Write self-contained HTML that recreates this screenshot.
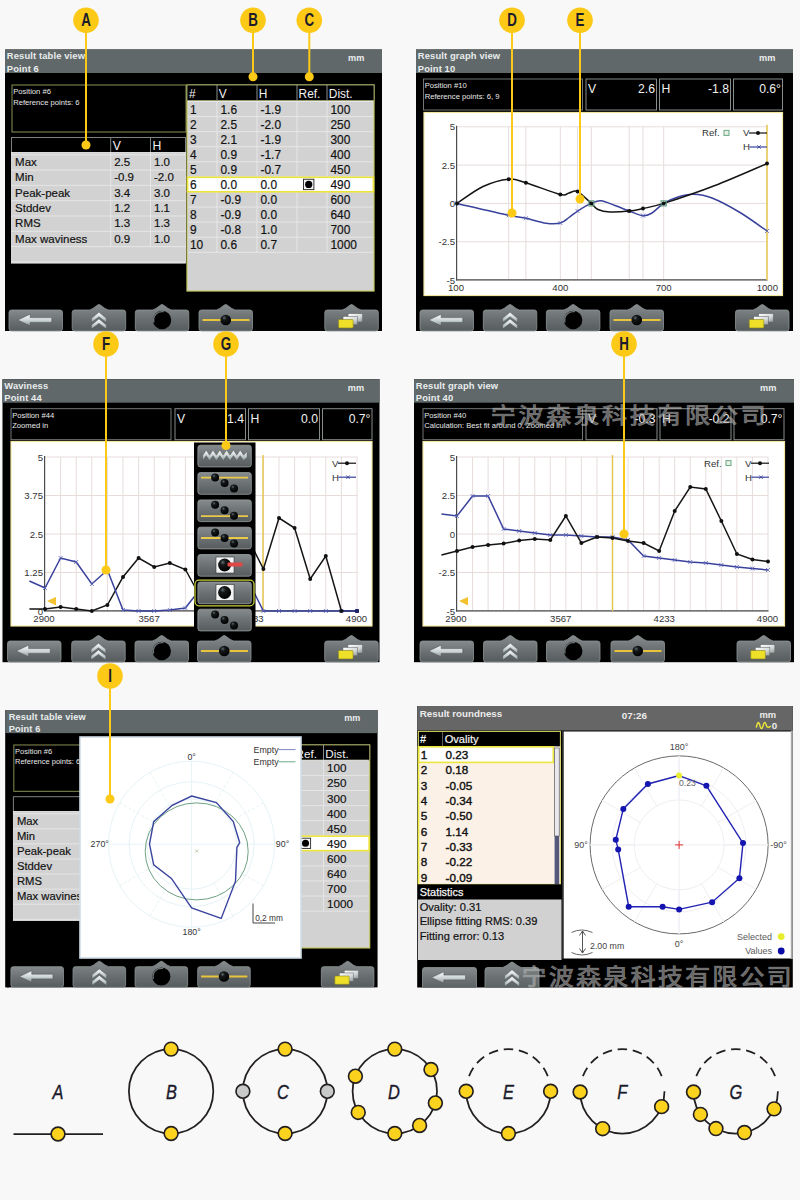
<!DOCTYPE html>
<html lang="en"><head><meta charset="utf-8"><title>Result views</title>
<style>html,body{margin:0;padding:0;background:#f8f8f8}svg{display:block}</style>
</head><body>
<svg width="800" height="1200" viewBox="0 0 800 1200" font-family='"Liberation Sans", Arial, sans-serif'>
<defs>
<linearGradient id="gbtn" x1="0" y1="0" x2="0" y2="1"><stop offset="0" stop-color="#868c8d"/><stop offset="0.5" stop-color="#6c7273"/><stop offset="1" stop-color="#565c5d"/></linearGradient>
<linearGradient id="gsilver" x1="0" y1="0" x2="0" y2="1"><stop offset="0" stop-color="#ffffff"/><stop offset="0.55" stop-color="#c9d2d2"/><stop offset="1" stop-color="#8d9797"/></linearGradient>
<linearGradient id="gsilver2" x1="0" y1="0" x2="1" y2="1"><stop offset="0" stop-color="#ffffff"/><stop offset="0.6" stop-color="#d4d8d8"/><stop offset="1" stop-color="#8f9595"/></linearGradient>
<radialGradient id="gball" cx="0.36" cy="0.3" r="0.7"><stop offset="0" stop-color="#5d6a6d"/><stop offset="0.3" stop-color="#151819"/><stop offset="1" stop-color="#000"/></radialGradient>
<radialGradient id="gbigball" cx="0.5" cy="0.5" r="0.5" fx="0.3" fy="0.25"><stop offset="0" stop-color="#000"/><stop offset="0.86" stop-color="#000"/><stop offset="0.93" stop-color="#3a4042"/><stop offset="1" stop-color="#5b6263"/></radialGradient>
</defs>
<rect x="0" y="0" width="800" height="1200" fill="#f8f8f8"/>
<g transform="translate(5 49.5)">
<rect x="0" y="0" width="377" height="281.5" fill="#000"/>
<rect x="0" y="0" width="377" height="23.5" fill="#60686a"/>
<text x="1.8" y="9.9" font-size="9.4" fill="#e9eded" font-weight="bold" letter-spacing="0.13">Result table view</text>
<text x="1.8" y="22" font-size="9.4" fill="#e9eded" font-weight="bold" letter-spacing="0.13">Point 6</text>
<text x="343" y="11.6" font-size="9.2" fill="#e9eded" font-weight="bold">mm</text>
<rect x="7" y="35.5" width="174" height="47" fill="#000" stroke="#9aa05c" stroke-width="0.9"/>
<text x="8.2" y="44.4" font-size="7.65" fill="#e8e8e8">Position #6</text>
<text x="8.2" y="55.1" font-size="7.65" fill="#e8e8e8">Reference points: 6</text>
<rect x="6.5" y="103" width="174" height="110.6" fill="#d2d2d2"/>
<rect x="6.5" y="88" width="174" height="15" fill="#000" stroke="#8a8f8f" stroke-width="0.9"/>
<line x1="105.7" y1="88" x2="105.7" y2="103" stroke="#8a8f8f" stroke-width="0.9"/>
<line x1="145.5" y1="88" x2="145.5" y2="103" stroke="#8a8f8f" stroke-width="0.9"/>
<text x="107.7" y="100.6" font-size="12.2" fill="#f2f2f2">V</text>
<text x="147.5" y="100.6" font-size="12.2" fill="#f2f2f2">H</text>
<line x1="6.5" y1="105.3" x2="180.5" y2="105.3" stroke="#e6e6e6" stroke-width="1"/>
<line x1="6.5" y1="120.6" x2="180.5" y2="120.6" stroke="#e6e6e6" stroke-width="1"/>
<line x1="6.5" y1="135.9" x2="180.5" y2="135.9" stroke="#e6e6e6" stroke-width="1"/>
<line x1="6.5" y1="151.2" x2="180.5" y2="151.2" stroke="#e6e6e6" stroke-width="1"/>
<line x1="6.5" y1="166.5" x2="180.5" y2="166.5" stroke="#e6e6e6" stroke-width="1"/>
<line x1="6.5" y1="181.8" x2="180.5" y2="181.8" stroke="#e6e6e6" stroke-width="1"/>
<line x1="6.5" y1="197.1" x2="180.5" y2="197.1" stroke="#e6e6e6" stroke-width="1"/>
<line x1="6.5" y1="212.4" x2="180.5" y2="212.4" stroke="#e6e6e6" stroke-width="1"/>
<line x1="105.7" y1="103" x2="105.7" y2="197.1" stroke="#e6e6e6" stroke-width="1"/>
<line x1="145.5" y1="103" x2="145.5" y2="197.1" stroke="#e6e6e6" stroke-width="1"/>
<text x="10.1" y="116.6" font-size="11.5" fill="#111" stroke="#111" stroke-width="0.18">Max</text>
<text x="109.2" y="116.6" font-size="11.5" fill="#111" stroke="#111" stroke-width="0.18">2.5</text>
<text x="149" y="116.6" font-size="11.5" fill="#111" stroke="#111" stroke-width="0.18">1.0</text>
<text x="10.1" y="131.9" font-size="11.5" fill="#111" stroke="#111" stroke-width="0.18">Min</text>
<text x="109.2" y="131.9" font-size="11.5" fill="#111" stroke="#111" stroke-width="0.18">-0.9</text>
<text x="149" y="131.9" font-size="11.5" fill="#111" stroke="#111" stroke-width="0.18">-2.0</text>
<text x="10.1" y="147.2" font-size="11.5" fill="#111" stroke="#111" stroke-width="0.18">Peak-peak</text>
<text x="109.2" y="147.2" font-size="11.5" fill="#111" stroke="#111" stroke-width="0.18">3.4</text>
<text x="149" y="147.2" font-size="11.5" fill="#111" stroke="#111" stroke-width="0.18">3.0</text>
<text x="10.1" y="162.5" font-size="11.5" fill="#111" stroke="#111" stroke-width="0.18">Stddev</text>
<text x="109.2" y="162.5" font-size="11.5" fill="#111" stroke="#111" stroke-width="0.18">1.2</text>
<text x="149" y="162.5" font-size="11.5" fill="#111" stroke="#111" stroke-width="0.18">1.1</text>
<text x="10.1" y="177.8" font-size="11.5" fill="#111" stroke="#111" stroke-width="0.18">RMS</text>
<text x="109.2" y="177.8" font-size="11.5" fill="#111" stroke="#111" stroke-width="0.18">1.3</text>
<text x="149" y="177.8" font-size="11.5" fill="#111" stroke="#111" stroke-width="0.18">1.3</text>
<text x="10.1" y="193.1" font-size="11.5" fill="#111" stroke="#111" stroke-width="0.18">Max waviness</text>
<text x="109.2" y="193.1" font-size="11.5" fill="#111" stroke="#111" stroke-width="0.18">0.9</text>
<text x="149" y="193.1" font-size="11.5" fill="#111" stroke="#111" stroke-width="0.18">1.0</text>
<rect x="6.5" y="103" width="174" height="110.6" fill="none" stroke="#f0f0f0" stroke-width="0.8"/>
<rect x="182" y="35.5" width="187" height="206" fill="#d2d2d2" stroke="#c9cc66" stroke-width="1.2"/>
<rect x="182" y="35.5" width="187" height="15.5" fill="#000" stroke="#9a9f6a" stroke-width="0.9"/>
<line x1="212" y1="35.5" x2="212" y2="51" stroke="#9a9f9a" stroke-width="0.9"/>
<line x1="252" y1="35.5" x2="252" y2="51" stroke="#9a9f9a" stroke-width="0.9"/>
<line x1="292" y1="35.5" x2="292" y2="51" stroke="#9a9f9a" stroke-width="0.9"/>
<line x1="322" y1="35.5" x2="322" y2="51" stroke="#9a9f9a" stroke-width="0.9"/>
<text x="184" y="48.3" font-size="11.9" fill="#f2f2f2">#</text>
<text x="213.8" y="48.3" font-size="11.9" fill="#f2f2f2">V</text>
<text x="253.8" y="48.3" font-size="11.9" fill="#f2f2f2">H</text>
<text x="293.6" y="48.3" font-size="11.9" fill="#f2f2f2">Ref.</text>
<text x="323.8" y="48.3" font-size="11.9" fill="#f2f2f2">Dist.</text>
<line x1="183" y1="52" x2="368" y2="52" stroke="#e6e6e6" stroke-width="1"/>
<line x1="183" y1="67.08" x2="368" y2="67.08" stroke="#e6e6e6" stroke-width="1"/>
<line x1="183" y1="82.16" x2="368" y2="82.16" stroke="#e6e6e6" stroke-width="1"/>
<line x1="183" y1="97.24" x2="368" y2="97.24" stroke="#e6e6e6" stroke-width="1"/>
<line x1="183" y1="112.32" x2="368" y2="112.32" stroke="#e6e6e6" stroke-width="1"/>
<line x1="183" y1="127.4" x2="368" y2="127.4" stroke="#e6e6e6" stroke-width="1"/>
<line x1="183" y1="142.48" x2="368" y2="142.48" stroke="#e6e6e6" stroke-width="1"/>
<line x1="183" y1="157.56" x2="368" y2="157.56" stroke="#e6e6e6" stroke-width="1"/>
<line x1="183" y1="172.64" x2="368" y2="172.64" stroke="#e6e6e6" stroke-width="1"/>
<line x1="183" y1="187.72" x2="368" y2="187.72" stroke="#e6e6e6" stroke-width="1"/>
<line x1="183" y1="202.8" x2="368" y2="202.8" stroke="#e6e6e6" stroke-width="1"/>
<line x1="212" y1="52" x2="212" y2="202.8" stroke="#e6e6e6" stroke-width="1"/>
<line x1="252" y1="52" x2="252" y2="202.8" stroke="#e6e6e6" stroke-width="1"/>
<line x1="292" y1="52" x2="292" y2="202.8" stroke="#e6e6e6" stroke-width="1"/>
<line x1="322" y1="52" x2="322" y2="202.8" stroke="#e6e6e6" stroke-width="1"/>
<rect x="182.6" y="127.8" width="185.8" height="14.48" fill="#fff" stroke="#ede43a" stroke-width="1.6"/>
<text x="185" y="64.2" font-size="11.9" fill="#111" stroke="#111" stroke-width="0.18">1</text>
<text x="215.5" y="64.2" font-size="11.9" fill="#111" stroke="#111" stroke-width="0.18">1.6</text>
<text x="255.5" y="64.2" font-size="11.9" fill="#111" stroke="#111" stroke-width="0.18">-1.9</text>
<text x="325.5" y="64.2" font-size="11.9" fill="#111" stroke="#111" stroke-width="0.18">100</text>
<text x="185" y="79.28" font-size="11.9" fill="#111" stroke="#111" stroke-width="0.18">2</text>
<text x="215.5" y="79.28" font-size="11.9" fill="#111" stroke="#111" stroke-width="0.18">2.5</text>
<text x="255.5" y="79.28" font-size="11.9" fill="#111" stroke="#111" stroke-width="0.18">-2.0</text>
<text x="325.5" y="79.28" font-size="11.9" fill="#111" stroke="#111" stroke-width="0.18">250</text>
<text x="185" y="94.36" font-size="11.9" fill="#111" stroke="#111" stroke-width="0.18">3</text>
<text x="215.5" y="94.36" font-size="11.9" fill="#111" stroke="#111" stroke-width="0.18">2.1</text>
<text x="255.5" y="94.36" font-size="11.9" fill="#111" stroke="#111" stroke-width="0.18">-1.9</text>
<text x="325.5" y="94.36" font-size="11.9" fill="#111" stroke="#111" stroke-width="0.18">300</text>
<text x="185" y="109.44" font-size="11.9" fill="#111" stroke="#111" stroke-width="0.18">4</text>
<text x="215.5" y="109.44" font-size="11.9" fill="#111" stroke="#111" stroke-width="0.18">0.9</text>
<text x="255.5" y="109.44" font-size="11.9" fill="#111" stroke="#111" stroke-width="0.18">-1.7</text>
<text x="325.5" y="109.44" font-size="11.9" fill="#111" stroke="#111" stroke-width="0.18">400</text>
<text x="185" y="124.52" font-size="11.9" fill="#111" stroke="#111" stroke-width="0.18">5</text>
<text x="215.5" y="124.52" font-size="11.9" fill="#111" stroke="#111" stroke-width="0.18">0.9</text>
<text x="255.5" y="124.52" font-size="11.9" fill="#111" stroke="#111" stroke-width="0.18">-0.7</text>
<text x="325.5" y="124.52" font-size="11.9" fill="#111" stroke="#111" stroke-width="0.18">450</text>
<text x="185" y="139.6" font-size="11.9" fill="#111" stroke="#111" stroke-width="0.18">6</text>
<text x="215.5" y="139.6" font-size="11.9" fill="#111" stroke="#111" stroke-width="0.18">0.0</text>
<text x="255.5" y="139.6" font-size="11.9" fill="#111" stroke="#111" stroke-width="0.18">0.0</text>
<text x="325.5" y="139.6" font-size="11.9" fill="#111" stroke="#111" stroke-width="0.18">490</text>
<text x="185" y="154.68" font-size="11.9" fill="#111" stroke="#111" stroke-width="0.18">7</text>
<text x="215.5" y="154.68" font-size="11.9" fill="#111" stroke="#111" stroke-width="0.18">-0.9</text>
<text x="255.5" y="154.68" font-size="11.9" fill="#111" stroke="#111" stroke-width="0.18">0.0</text>
<text x="325.5" y="154.68" font-size="11.9" fill="#111" stroke="#111" stroke-width="0.18">600</text>
<text x="185" y="169.76" font-size="11.9" fill="#111" stroke="#111" stroke-width="0.18">8</text>
<text x="215.5" y="169.76" font-size="11.9" fill="#111" stroke="#111" stroke-width="0.18">-0.9</text>
<text x="255.5" y="169.76" font-size="11.9" fill="#111" stroke="#111" stroke-width="0.18">0.0</text>
<text x="325.5" y="169.76" font-size="11.9" fill="#111" stroke="#111" stroke-width="0.18">640</text>
<text x="185" y="184.84" font-size="11.9" fill="#111" stroke="#111" stroke-width="0.18">9</text>
<text x="215.5" y="184.84" font-size="11.9" fill="#111" stroke="#111" stroke-width="0.18">-0.8</text>
<text x="255.5" y="184.84" font-size="11.9" fill="#111" stroke="#111" stroke-width="0.18">1.0</text>
<text x="325.5" y="184.84" font-size="11.9" fill="#111" stroke="#111" stroke-width="0.18">700</text>
<text x="185" y="199.92" font-size="11.9" fill="#111" stroke="#111" stroke-width="0.18">10</text>
<text x="215.5" y="199.92" font-size="11.9" fill="#111" stroke="#111" stroke-width="0.18">0.6</text>
<text x="255.5" y="199.92" font-size="11.9" fill="#111" stroke="#111" stroke-width="0.18">0.7</text>
<text x="325.5" y="199.92" font-size="11.9" fill="#111" stroke="#111" stroke-width="0.18">1000</text>
<rect x="298.5" y="129.74" width="10.4" height="10.4" fill="#f4f4f4" stroke="#222" stroke-width="0.9"/>
<circle cx="303.7" cy="134.94" r="3.6" fill="#000"/>
<path d="M6.5 260.5 L55 260.5 Q57.5 260.5 57.5 263 L57.5 279 Q57.5 281.5 55 281.5 L6.5 281.5 Q4 281.5 4 279 L4 263 Q4 260.5 6.5 260.5 Z" fill="url(#gbtn)" stroke="#8e9495" stroke-width="0.8"/>
<path d="M12.75 270.5 L25.15 264.7 L25.15 268.1 L46.75 268.1 L46.75 272.9 L25.15 272.9 L25.15 276.3 Z" fill="url(#gsilver)" stroke="#4a4f50" stroke-width="0.5"/>
<path d="M69.7 260.5 L84.45 260.5 Q87.45 259.9 92.35 255.7 Q93.95 254.3 95.55 255.7 Q100.45 259.9 103.45 260.5 L118.2 260.5 Q120.7 260.5 120.7 263 L120.7 279 Q120.7 281.5 118.2 281.5 L69.7 281.5 Q67.2 281.5 67.2 279 L67.2 263 Q67.2 260.5 69.7 260.5 Z" fill="url(#gbtn)" stroke="#8e9495" stroke-width="0.8"/>
<path d="M93.95 262.8 L101.35 268.8 L101.35 273 L93.95 267.2 L86.55 273 L86.55 268.8 Z" fill="url(#gsilver)" stroke="#4a4f50" stroke-width="0.4"/>
<path d="M93.95 269.4 L101.35 275.4 L101.35 279.6 L93.95 273.8 L86.55 279.6 L86.55 275.4 Z" fill="url(#gsilver)" stroke="#4a4f50" stroke-width="0.4"/>
<path d="M132.8 260.5 L147.55 260.5 Q150.55 259.9 155.45 255.7 Q157.05 254.3 158.65 255.7 Q163.55 259.9 166.55 260.5 L181.3 260.5 Q183.8 260.5 183.8 263 L183.8 279 Q183.8 281.5 181.3 281.5 L132.8 281.5 Q130.3 281.5 130.3 279 L130.3 263 Q130.3 260.5 132.8 260.5 Z" fill="url(#gbtn)" stroke="#8e9495" stroke-width="0.8"/>
<circle cx="157.05" cy="270.5" r="9.2" fill="#000"/>
<path d="M148.85 272.3 A8.4 8.4 0 0 1 158.25 262.2" fill="none" stroke="#6d7576" stroke-width="1.3" stroke-linecap="round"/>
<path d="M196.5 260.5 L211.25 260.5 Q214.25 259.9 219.15 255.7 Q220.75 254.3 222.35 255.7 Q227.25 259.9 230.25 260.5 L245 260.5 Q247.5 260.5 247.5 263 L247.5 279 Q247.5 281.5 245 281.5 L196.5 281.5 Q194 281.5 194 279 L194 263 Q194 260.5 196.5 260.5 Z" fill="url(#gbtn)" stroke="#8e9495" stroke-width="0.8"/>
<line x1="197.5" y1="270.5" x2="244.5" y2="270.5" stroke="#e8c33c" stroke-width="2"/>
<circle cx="220.75" cy="270.5" r="5.3" fill="url(#gball)"/>
<path d="M322.3 260.5 L337.05 260.5 Q340.05 259.9 344.95 255.7 Q346.55 254.3 348.15 255.7 Q353.05 259.9 356.05 260.5 L370.8 260.5 Q373.3 260.5 373.3 263 L373.3 279 Q373.3 281.5 370.8 281.5 L322.3 281.5 Q319.8 281.5 319.8 279 L319.8 263 Q319.8 260.5 322.3 260.5 Z" fill="url(#gbtn)" stroke="#8e9495" stroke-width="0.8"/>
<rect x="343.05" y="264.1" width="14.6" height="8.4" fill="url(#gsilver2)" stroke="#5a5f60" stroke-width="0.5"/>
<rect x="338.05" y="266.9" width="14.6" height="8.4" fill="url(#gsilver2)" stroke="#5a5f60" stroke-width="0.5"/>
<rect x="333.55" y="270" width="14.6" height="8.4" fill="#eee028" stroke="#8a8420" stroke-width="0.6" rx="0.8"/>
</g>
<rect x="416" y="49.5" width="377" height="281.5" fill="#000"/>
<rect x="416" y="49.5" width="377" height="23.5" fill="#60686a"/>
<text x="417.8" y="59.4" font-size="9.4" fill="#e9eded" font-weight="bold" letter-spacing="0.13">Result graph view</text>
<text x="417.8" y="71.5" font-size="9.4" fill="#e9eded" font-weight="bold" letter-spacing="0.13">Point 10</text>
<text x="759" y="61.1" font-size="9.2" fill="#e9eded" font-weight="bold">mm</text>
<rect x="423.5" y="79" width="159" height="31" fill="#000" stroke="#7d8282" stroke-width="0.9"/>
<text x="424.7" y="87.9" font-size="7.65" fill="#e8e8e8">Position #10</text>
<text x="424.7" y="98.6" font-size="7.65" fill="#e8e8e8">Reference points: 6, 9</text>
<rect x="586" y="79" width="70.5" height="31" fill="#000" stroke="#878c8c" stroke-width="1"/>
<text x="588" y="93.2" font-size="12.2" fill="#f2f2f2">V</text>
<text x="655" y="93.2" font-size="12.2" fill="#f2f2f2" text-anchor="end">2.6</text>
<rect x="659.5" y="79" width="71" height="31" fill="#000" stroke="#878c8c" stroke-width="1"/>
<text x="661.5" y="93.2" font-size="12.2" fill="#f2f2f2">H</text>
<text x="729" y="93.2" font-size="12.2" fill="#f2f2f2" text-anchor="end">-1.8</text>
<rect x="733.5" y="79" width="49" height="31" fill="#000" stroke="#878c8c" stroke-width="1"/>
<text x="781" y="93.2" font-size="12.2" fill="#f2f2f2" text-anchor="end">0.6°</text>
<rect x="424" y="112.5" width="358.5" height="183" fill="#fff" stroke="#f3e7a0" stroke-width="1.2"/>
<line x1="457" y1="126.8" x2="767.5" y2="126.8" stroke="#e6dddb" stroke-width="1"/>
<line x1="457" y1="165.1" x2="767.5" y2="165.1" stroke="#e6dddb" stroke-width="1"/>
<line x1="457" y1="203.4" x2="767.5" y2="203.4" stroke="#e6dddb" stroke-width="1"/>
<line x1="457" y1="241.7" x2="767.5" y2="241.7" stroke="#e6dddb" stroke-width="1"/>
<line x1="457" y1="280" x2="767.5" y2="280" stroke="#e6dddb" stroke-width="1"/>
<line x1="508.67" y1="126.8" x2="508.67" y2="280" stroke="#e6dddb" stroke-width="1"/>
<line x1="525.89" y1="126.8" x2="525.89" y2="280" stroke="#e6dddb" stroke-width="1"/>
<line x1="560.33" y1="126.8" x2="560.33" y2="280" stroke="#e6dddb" stroke-width="1"/>
<line x1="577.56" y1="126.8" x2="577.56" y2="280" stroke="#e6dddb" stroke-width="1"/>
<line x1="591.33" y1="126.8" x2="591.33" y2="280" stroke="#e6dddb" stroke-width="1"/>
<line x1="629.22" y1="126.8" x2="629.22" y2="280" stroke="#e6dddb" stroke-width="1"/>
<line x1="643" y1="126.8" x2="643" y2="280" stroke="#e6dddb" stroke-width="1"/>
<line x1="663.67" y1="126.8" x2="663.67" y2="280" stroke="#e6dddb" stroke-width="1"/>
<line x1="767" y1="126.8" x2="767" y2="280" stroke="#e6dddb" stroke-width="1"/>
<line x1="456.6" y1="125.8" x2="456.6" y2="280.5" stroke="#4c4c4c" stroke-width="1.2"/>
<line x1="456" y1="279.8" x2="767.5" y2="279.8" stroke="#4c4c4c" stroke-width="1.2"/>
<text x="455" y="130.4" font-size="9.6" fill="#333" text-anchor="end">5</text>
<text x="455" y="168.7" font-size="9.6" fill="#333" text-anchor="end">2.5</text>
<text x="455" y="207" font-size="9.6" fill="#333" text-anchor="end">0</text>
<text x="455" y="245.3" font-size="9.6" fill="#333" text-anchor="end">-2.5</text>
<text x="455" y="283.6" font-size="9.6" fill="#333" text-anchor="end">-5</text>
<text x="456" y="290.6" font-size="9.6" fill="#333" text-anchor="middle">100</text>
<text x="560.33" y="290.6" font-size="9.6" fill="#333" text-anchor="middle">400</text>
<text x="663.67" y="290.6" font-size="9.6" fill="#333" text-anchor="middle">700</text>
<text x="767.3" y="290.6" font-size="9.6" fill="#333" text-anchor="middle">1000</text>
<line x1="767" y1="124.8" x2="767" y2="280" stroke="#e9cd62" stroke-width="1.7"/>
<path d="M457 203.4 C465.61 205.39 497.19 212.87 508.67 215.35 C520.15 217.83 519.67 216.95 525.89 218.26 C532.11 219.57 540.26 222.41 546 223.2 C551.74 223.99 556.5 223.96 560.33 223.01 C564.17 222.06 566.13 219.49 569 217.5 C571.87 215.51 573.83 213.41 577.56 211.06 C581.28 208.71 587.43 205.11 591.33 203.4 C595.24 201.69 597.06 200.45 601 200.8 C604.94 201.15 610.3 203.79 615 205.5 C619.7 207.21 624.56 209.37 629.22 211.06 C633.89 212.75 639.2 215.33 643 215.66 C646.8 215.98 648.56 215.04 652 213 C655.44 210.96 659.33 206.07 663.67 203.4 C668 200.73 673.11 198.52 678 197 C682.89 195.48 687.33 194.13 693 194.3 C698.67 194.47 704.17 194.97 712 198 C719.83 201.03 730.83 207 740 212.5 C749.17 218 762.5 227.9 767 230.98" fill="none" stroke="#39419c" stroke-width="1.5"/>
<path d="M457 203.4 C461.33 200.58 474.39 190.53 483 186.5 C491.61 182.47 501.52 179.82 508.67 179.19 C515.81 178.56 517.28 180.16 525.89 182.72 C534.5 185.27 553.15 192.82 560.33 194.51 C567.52 196.21 566.13 193.39 569 192.9 C571.87 192.41 573.83 189.85 577.56 191.6 C581.28 193.35 587.93 200.42 591.33 203.4 C594.74 206.38 594.89 208.07 598 209.5 C601.11 210.93 604.8 211.74 610 212 C615.2 212.26 623.72 211.65 629.22 211.06 C634.72 210.47 637.26 209.73 643 208.46 C648.74 207.18 651.67 207.23 663.67 203.4 C675.67 199.57 697.78 192.14 715 185.5 C732.22 178.86 758.33 167.22 767 163.57" fill="none" stroke="#151515" stroke-width="1.5"/>
<path d="M455 201.4 L459 205.4 M455 205.4 L459 201.4" fill="none" stroke="#5560b8" stroke-width="0.8"/>
<path d="M506.67 213.35 L510.67 217.35 M506.67 217.35 L510.67 213.35" fill="none" stroke="#5560b8" stroke-width="0.8"/>
<path d="M523.89 216.26 L527.89 220.26 M523.89 220.26 L527.89 216.26" fill="none" stroke="#5560b8" stroke-width="0.8"/>
<path d="M558.33 221.01 L562.33 225.01 M558.33 225.01 L562.33 221.01" fill="none" stroke="#5560b8" stroke-width="0.8"/>
<path d="M575.56 209.06 L579.56 213.06 M575.56 213.06 L579.56 209.06" fill="none" stroke="#5560b8" stroke-width="0.8"/>
<path d="M589.33 201.4 L593.33 205.4 M589.33 205.4 L593.33 201.4" fill="none" stroke="#5560b8" stroke-width="0.8"/>
<path d="M627.22 209.06 L631.22 213.06 M627.22 213.06 L631.22 209.06" fill="none" stroke="#5560b8" stroke-width="0.8"/>
<path d="M641 213.66 L645 217.66 M641 217.66 L645 213.66" fill="none" stroke="#5560b8" stroke-width="0.8"/>
<path d="M661.67 201.4 L665.67 205.4 M661.67 205.4 L665.67 201.4" fill="none" stroke="#5560b8" stroke-width="0.8"/>
<path d="M765 228.98 L769 232.98 M765 232.98 L769 228.98" fill="none" stroke="#5560b8" stroke-width="0.8"/>
<circle cx="457" cy="203.4" r="2" fill="#111"/>
<circle cx="508.67" cy="179.19" r="2" fill="#111"/>
<circle cx="525.89" cy="182.72" r="2" fill="#111"/>
<circle cx="560.33" cy="194.51" r="2" fill="#111"/>
<circle cx="577.56" cy="191.6" r="2" fill="#111"/>
<circle cx="591.33" cy="203.4" r="2" fill="#111"/>
<circle cx="629.22" cy="211.06" r="2" fill="#111"/>
<circle cx="643" cy="208.46" r="2" fill="#111"/>
<circle cx="663.67" cy="203.4" r="2" fill="#111"/>
<circle cx="767" cy="163.57" r="2" fill="#111"/>
<rect x="588.73" y="200.8" width="5.2" height="5.2" fill="none" stroke="#5b9c7c" stroke-width="1"/>
<rect x="661.07" y="200.8" width="5.2" height="5.2" fill="none" stroke="#5b9c7c" stroke-width="1"/>
<text x="702" y="136.3" font-size="9.6" fill="#333">Ref.</text>
<rect x="724" y="130.4" width="5" height="5" fill="#e8f0e8" stroke="#6aa884" stroke-width="1"/>
<text x="743" y="136.3" font-size="9.6" fill="#333">V</text>
<line x1="749" y1="133" x2="767" y2="133" stroke="#111" stroke-width="1.2"/>
<circle cx="758" cy="133" r="2" fill="#111"/>
<text x="743" y="150.3" font-size="9.6" fill="#333">H</text>
<line x1="749.5" y1="147" x2="767" y2="147" stroke="#39419c" stroke-width="1.2"/>
<path d="M757.2 145.2 L760.8 148.8 M757.2 148.8 L760.8 145.2" fill="none" stroke="#39419c" stroke-width="0.8"/>
<path d="M422.5 310 L471 310 Q473.5 310 473.5 312.5 L473.5 328.5 Q473.5 331 471 331 L422.5 331 Q420 331 420 328.5 L420 312.5 Q420 310 422.5 310 Z" fill="url(#gbtn)" stroke="#8e9495" stroke-width="0.8"/>
<path d="M428.75 320 L441.15 314.2 L441.15 317.6 L462.75 317.6 L462.75 322.4 L441.15 322.4 L441.15 325.8 Z" fill="url(#gsilver)" stroke="#4a4f50" stroke-width="0.5"/>
<path d="M485.8 310 L500.55 310 Q503.55 309.4 508.45 305.2 Q510.05 303.8 511.65 305.2 Q516.55 309.4 519.55 310 L534.3 310 Q536.8 310 536.8 312.5 L536.8 328.5 Q536.8 331 534.3 331 L485.8 331 Q483.3 331 483.3 328.5 L483.3 312.5 Q483.3 310 485.8 310 Z" fill="url(#gbtn)" stroke="#8e9495" stroke-width="0.8"/>
<path d="M510.05 312.3 L517.45 318.3 L517.45 322.5 L510.05 316.7 L502.65 322.5 L502.65 318.3 Z" fill="url(#gsilver)" stroke="#4a4f50" stroke-width="0.4"/>
<path d="M510.05 318.9 L517.45 324.9 L517.45 329.1 L510.05 323.3 L502.65 329.1 L502.65 324.9 Z" fill="url(#gsilver)" stroke="#4a4f50" stroke-width="0.4"/>
<path d="M548.9 310 L563.65 310 Q566.65 309.4 571.55 305.2 Q573.15 303.8 574.75 305.2 Q579.65 309.4 582.65 310 L597.4 310 Q599.9 310 599.9 312.5 L599.9 328.5 Q599.9 331 597.4 331 L548.9 331 Q546.4 331 546.4 328.5 L546.4 312.5 Q546.4 310 548.9 310 Z" fill="url(#gbtn)" stroke="#8e9495" stroke-width="0.8"/>
<circle cx="573.15" cy="320" r="9.2" fill="#000"/>
<path d="M564.95 321.8 A8.4 8.4 0 0 1 574.35 311.7" fill="none" stroke="#6d7576" stroke-width="1.3" stroke-linecap="round"/>
<path d="M612.5 310 L627.25 310 Q630.25 309.4 635.15 305.2 Q636.75 303.8 638.35 305.2 Q643.25 309.4 646.25 310 L661 310 Q663.5 310 663.5 312.5 L663.5 328.5 Q663.5 331 661 331 L612.5 331 Q610 331 610 328.5 L610 312.5 Q610 310 612.5 310 Z" fill="url(#gbtn)" stroke="#8e9495" stroke-width="0.8"/>
<line x1="613.5" y1="320" x2="660.5" y2="320" stroke="#e8c33c" stroke-width="2"/>
<circle cx="636.75" cy="320" r="5.3" fill="url(#gball)"/>
<path d="M738 310 L752.75 310 Q755.75 309.4 760.65 305.2 Q762.25 303.8 763.85 305.2 Q768.75 309.4 771.75 310 L786.5 310 Q789 310 789 312.5 L789 328.5 Q789 331 786.5 331 L738 331 Q735.5 331 735.5 328.5 L735.5 312.5 Q735.5 310 738 310 Z" fill="url(#gbtn)" stroke="#8e9495" stroke-width="0.8"/>
<rect x="758.75" y="313.6" width="14.6" height="8.4" fill="url(#gsilver2)" stroke="#5a5f60" stroke-width="0.5"/>
<rect x="753.75" y="316.4" width="14.6" height="8.4" fill="url(#gsilver2)" stroke="#5a5f60" stroke-width="0.5"/>
<rect x="749.25" y="319.5" width="14.6" height="8.4" fill="#eee028" stroke="#8a8420" stroke-width="0.6" rx="0.8"/>
<rect x="2.5" y="379.2" width="377" height="283" fill="#000"/>
<rect x="2.5" y="379.2" width="377" height="23.5" fill="#60686a"/>
<text x="4.3" y="389.1" font-size="9.4" fill="#e9eded" font-weight="bold" letter-spacing="0.13">Waviness</text>
<text x="4.3" y="401.2" font-size="9.4" fill="#e9eded" font-weight="bold" letter-spacing="0.13">Point 44</text>
<text x="347.8" y="390.8" font-size="9.2" fill="#e9eded" font-weight="bold">mm</text>
<rect x="11" y="408.7" width="160" height="31" fill="#000" stroke="#7d8282" stroke-width="0.9"/>
<text x="12.2" y="417.6" font-size="7.65" fill="#e8e8e8">Position #44</text>
<text x="12.2" y="428.3" font-size="7.65" fill="#e8e8e8">Zoomed in</text>
<rect x="175" y="408.7" width="70.5" height="31" fill="#000" stroke="#878c8c" stroke-width="1"/>
<text x="177" y="422.9" font-size="12.2" fill="#f2f2f2">V</text>
<text x="244" y="422.9" font-size="12.2" fill="#f2f2f2" text-anchor="end">1.4</text>
<rect x="248.5" y="408.7" width="71" height="31" fill="#000" stroke="#878c8c" stroke-width="1"/>
<text x="250.5" y="422.9" font-size="12.2" fill="#f2f2f2">H</text>
<text x="318" y="422.9" font-size="12.2" fill="#f2f2f2" text-anchor="end">0.0</text>
<rect x="322.5" y="408.7" width="49.5" height="31" fill="#000" stroke="#878c8c" stroke-width="1"/>
<text x="370.5" y="422.9" font-size="12.2" fill="#f2f2f2" text-anchor="end">0.7°</text>
<rect x="11" y="441.5" width="361" height="184.5" fill="#fff" stroke="#f3e7a0" stroke-width="1.2"/>
<line x1="45" y1="457" x2="357.5" y2="457" stroke="#e6dddb" stroke-width="1"/>
<line x1="45" y1="495.5" x2="357.5" y2="495.5" stroke="#e6dddb" stroke-width="1"/>
<line x1="45" y1="534" x2="357.5" y2="534" stroke="#e6dddb" stroke-width="1"/>
<line x1="45" y1="572.5" x2="357.5" y2="572.5" stroke="#e6dddb" stroke-width="1"/>
<line x1="45" y1="611" x2="357.5" y2="611" stroke="#e6dddb" stroke-width="1"/>
<line x1="60.6" y1="457" x2="60.6" y2="611" stroke="#e6dddb" stroke-width="1"/>
<line x1="76.2" y1="457" x2="76.2" y2="611" stroke="#e6dddb" stroke-width="1"/>
<line x1="91.8" y1="457" x2="91.8" y2="611" stroke="#e6dddb" stroke-width="1"/>
<line x1="107.4" y1="457" x2="107.4" y2="611" stroke="#e6dddb" stroke-width="1"/>
<line x1="123" y1="457" x2="123" y2="611" stroke="#e6dddb" stroke-width="1"/>
<line x1="138.6" y1="457" x2="138.6" y2="611" stroke="#e6dddb" stroke-width="1"/>
<line x1="154.2" y1="457" x2="154.2" y2="611" stroke="#e6dddb" stroke-width="1"/>
<line x1="169.8" y1="457" x2="169.8" y2="611" stroke="#e6dddb" stroke-width="1"/>
<line x1="185.4" y1="457" x2="185.4" y2="611" stroke="#e6dddb" stroke-width="1"/>
<line x1="201" y1="457" x2="201" y2="611" stroke="#e6dddb" stroke-width="1"/>
<line x1="216.6" y1="457" x2="216.6" y2="611" stroke="#e6dddb" stroke-width="1"/>
<line x1="232.2" y1="457" x2="232.2" y2="611" stroke="#e6dddb" stroke-width="1"/>
<line x1="247.8" y1="457" x2="247.8" y2="611" stroke="#e6dddb" stroke-width="1"/>
<line x1="263.4" y1="457" x2="263.4" y2="611" stroke="#e6dddb" stroke-width="1"/>
<line x1="279" y1="457" x2="279" y2="611" stroke="#e6dddb" stroke-width="1"/>
<line x1="294.6" y1="457" x2="294.6" y2="611" stroke="#e6dddb" stroke-width="1"/>
<line x1="310.2" y1="457" x2="310.2" y2="611" stroke="#e6dddb" stroke-width="1"/>
<line x1="325.8" y1="457" x2="325.8" y2="611" stroke="#e6dddb" stroke-width="1"/>
<line x1="341.4" y1="457" x2="341.4" y2="611" stroke="#e6dddb" stroke-width="1"/>
<line x1="357" y1="457" x2="357" y2="611" stroke="#e6dddb" stroke-width="1"/>
<line x1="44.6" y1="456" x2="44.6" y2="611.5" stroke="#4c4c4c" stroke-width="1.2"/>
<line x1="44" y1="610.8" x2="357.5" y2="610.8" stroke="#4c4c4c" stroke-width="1.2"/>
<text x="43" y="460.6" font-size="9.6" fill="#333" text-anchor="end">5</text>
<text x="43" y="499.1" font-size="9.6" fill="#333" text-anchor="end">3.75</text>
<text x="43" y="537.6" font-size="9.6" fill="#333" text-anchor="end">2.5</text>
<text x="43" y="576.1" font-size="9.6" fill="#333" text-anchor="end">1.25</text>
<text x="43" y="614.6" font-size="9.6" fill="#333" text-anchor="end">0</text>
<text x="44" y="621.6" font-size="9.6" fill="#333" text-anchor="middle">2900</text>
<text x="149.05" y="621.6" font-size="9.6" fill="#333" text-anchor="middle">3567</text>
<text x="252.95" y="621.6" font-size="9.6" fill="#333" text-anchor="middle">4233</text>
<text x="356.5" y="621.6" font-size="9.6" fill="#333" text-anchor="middle">4900</text>
<line x1="263" y1="455" x2="263" y2="611" stroke="#e6c34a" stroke-width="1.4"/>
<path d="M29.4 609 L45 609 L60.6 607 L76.2 609 L91.8 611 L107.4 605 L123 577 L138.6 558 L154.2 567 L169.8 563 L185.4 569.5 L201 598 L216.6 611 L232.2 600 L247.8 538 L263.4 569 L279 518 L294.6 528 L310.2 579 L325.8 556 L341.4 611 L357 611" fill="none" stroke="#151515" stroke-width="1.5"/>
<path d="M29.4 581 L45 588 L60.6 558 L76.2 562 L91.8 584 L107.4 570 L123 610 L138.6 611 L154.2 611 L169.8 610 L185.4 608 L201 588 L216.6 560 L232.2 560 L247.8 580 L263.4 611 L279 611 L294.6 611 L310.2 611 L325.8 611 L341.4 611 L357 611" fill="none" stroke="#39419c" stroke-width="1.5"/>
<path d="M43 586 L47 590 M43 590 L47 586" fill="none" stroke="#5560b8" stroke-width="0.8"/>
<path d="M58.6 556 L62.6 560 M58.6 560 L62.6 556" fill="none" stroke="#5560b8" stroke-width="0.8"/>
<path d="M74.2 560 L78.2 564 M74.2 564 L78.2 560" fill="none" stroke="#5560b8" stroke-width="0.8"/>
<path d="M89.8 582 L93.8 586 M89.8 586 L93.8 582" fill="none" stroke="#5560b8" stroke-width="0.8"/>
<path d="M105.4 568 L109.4 572 M105.4 572 L109.4 568" fill="none" stroke="#5560b8" stroke-width="0.8"/>
<path d="M121 608 L125 612 M121 612 L125 608" fill="none" stroke="#5560b8" stroke-width="0.8"/>
<path d="M136.6 609 L140.6 613 M136.6 613 L140.6 609" fill="none" stroke="#5560b8" stroke-width="0.8"/>
<path d="M152.2 609 L156.2 613 M152.2 613 L156.2 609" fill="none" stroke="#5560b8" stroke-width="0.8"/>
<path d="M167.8 608 L171.8 612 M167.8 612 L171.8 608" fill="none" stroke="#5560b8" stroke-width="0.8"/>
<path d="M183.4 606 L187.4 610 M183.4 610 L187.4 606" fill="none" stroke="#5560b8" stroke-width="0.8"/>
<path d="M199 586 L203 590 M199 590 L203 586" fill="none" stroke="#5560b8" stroke-width="0.8"/>
<path d="M214.6 558 L218.6 562 M214.6 562 L218.6 558" fill="none" stroke="#5560b8" stroke-width="0.8"/>
<path d="M230.2 558 L234.2 562 M230.2 562 L234.2 558" fill="none" stroke="#5560b8" stroke-width="0.8"/>
<path d="M245.8 578 L249.8 582 M245.8 582 L249.8 578" fill="none" stroke="#5560b8" stroke-width="0.8"/>
<path d="M261.4 609 L265.4 613 M261.4 613 L265.4 609" fill="none" stroke="#5560b8" stroke-width="0.8"/>
<path d="M277 609 L281 613 M277 613 L281 609" fill="none" stroke="#5560b8" stroke-width="0.8"/>
<path d="M292.6 609 L296.6 613 M292.6 613 L296.6 609" fill="none" stroke="#5560b8" stroke-width="0.8"/>
<path d="M308.2 609 L312.2 613 M308.2 613 L312.2 609" fill="none" stroke="#5560b8" stroke-width="0.8"/>
<path d="M323.8 609 L327.8 613 M323.8 613 L327.8 609" fill="none" stroke="#5560b8" stroke-width="0.8"/>
<path d="M339.4 609 L343.4 613 M339.4 613 L343.4 609" fill="none" stroke="#5560b8" stroke-width="0.8"/>
<path d="M355 609 L359 613 M355 613 L359 609" fill="none" stroke="#5560b8" stroke-width="0.8"/>
<circle cx="45" cy="609" r="2" fill="#111"/>
<circle cx="60.6" cy="607" r="2" fill="#111"/>
<circle cx="76.2" cy="609" r="2" fill="#111"/>
<circle cx="91.8" cy="611" r="2" fill="#111"/>
<circle cx="107.4" cy="605" r="2" fill="#111"/>
<circle cx="123" cy="577" r="2" fill="#111"/>
<circle cx="138.6" cy="558" r="2" fill="#111"/>
<circle cx="154.2" cy="567" r="2" fill="#111"/>
<circle cx="169.8" cy="563" r="2" fill="#111"/>
<circle cx="185.4" cy="569.5" r="2" fill="#111"/>
<circle cx="201" cy="598" r="2" fill="#111"/>
<circle cx="216.6" cy="611" r="2" fill="#111"/>
<circle cx="232.2" cy="600" r="2" fill="#111"/>
<circle cx="247.8" cy="538" r="2" fill="#111"/>
<circle cx="263.4" cy="569" r="2" fill="#111"/>
<circle cx="279" cy="518" r="2" fill="#111"/>
<circle cx="294.6" cy="528" r="2" fill="#111"/>
<circle cx="310.2" cy="579" r="2" fill="#111"/>
<circle cx="325.8" cy="556" r="2" fill="#111"/>
<circle cx="341.4" cy="611" r="2" fill="#111"/>
<circle cx="357" cy="611" r="2" fill="#111"/>
<circle cx="357" cy="611" r="2.1" fill="#1c2470"/>
<path d="M47 601 L56 597 L56 605.5 Z" fill="#f3c230"/>
<text x="332" y="466.5" font-size="9.6" fill="#333">V</text>
<line x1="338" y1="463.2" x2="356" y2="463.2" stroke="#111" stroke-width="1.2"/>
<circle cx="347" cy="463.2" r="2" fill="#111"/>
<text x="332" y="480.5" font-size="9.6" fill="#333">H</text>
<line x1="338.5" y1="477.2" x2="356" y2="477.2" stroke="#39419c" stroke-width="1.2"/>
<path d="M346.2 475.4 L349.8 479 M346.2 479 L349.8 475.4" fill="none" stroke="#39419c" stroke-width="0.8"/>
<rect x="194" y="442.5" width="61.5" height="190" fill="#000"/>
<rect x="195" y="580.2" width="59" height="25.6" fill="none" stroke="#c9d23a" stroke-width="1.3" rx="4"/>
<path d="M200.4 445.2 L248.8 445.2 Q251.3 445.2 251.3 447.7 L251.3 464.4 Q251.3 466.9 248.8 466.9 L200.4 466.9 Q197.9 466.9 197.9 464.4 L197.9 447.7 Q197.9 445.2 200.4 445.2 Z" fill="url(#gbtn)" stroke="#9aa0a0" stroke-width="0.8"/>
<path d="M200.4 472.6 L248.8 472.6 Q251.3 472.6 251.3 475.1 L251.3 491.8 Q251.3 494.3 248.8 494.3 L200.4 494.3 Q197.9 494.3 197.9 491.8 L197.9 475.1 Q197.9 472.6 200.4 472.6 Z" fill="url(#gbtn)" stroke="#9aa0a0" stroke-width="0.8"/>
<path d="M200.4 499.9 L248.8 499.9 Q251.3 499.9 251.3 502.4 L251.3 519.1 Q251.3 521.6 248.8 521.6 L200.4 521.6 Q197.9 521.6 197.9 519.1 L197.9 502.4 Q197.9 499.9 200.4 499.9 Z" fill="url(#gbtn)" stroke="#9aa0a0" stroke-width="0.8"/>
<path d="M200.4 527.2 L248.8 527.2 Q251.3 527.2 251.3 529.7 L251.3 546.4 Q251.3 548.9 248.8 548.9 L200.4 548.9 Q197.9 548.9 197.9 546.4 L197.9 529.7 Q197.9 527.2 200.4 527.2 Z" fill="url(#gbtn)" stroke="#9aa0a0" stroke-width="0.8"/>
<path d="M200.4 554.5 L248.8 554.5 Q251.3 554.5 251.3 557 L251.3 573.7 Q251.3 576.2 248.8 576.2 L200.4 576.2 Q197.9 576.2 197.9 573.7 L197.9 557 Q197.9 554.5 200.4 554.5 Z" fill="url(#gbtn)" stroke="#9aa0a0" stroke-width="0.8"/>
<path d="M200.4 582 L248.8 582 Q251.3 582 251.3 584.5 L251.3 601.2 Q251.3 603.7 248.8 603.7 L200.4 603.7 Q197.9 603.7 197.9 601.2 L197.9 584.5 Q197.9 582 200.4 582 Z" fill="url(#gbtn)" stroke="#9aa0a0" stroke-width="0.8"/>
<path d="M200.4 609.2 L248.8 609.2 Q251.3 609.2 251.3 611.7 L251.3 628.4 Q251.3 630.9 248.8 630.9 L200.4 630.9 Q197.9 630.9 197.9 628.4 L197.9 611.7 Q197.9 609.2 200.4 609.2 Z" fill="url(#gbtn)" stroke="#9aa0a0" stroke-width="0.8"/>
<path d="M202.8 455.2 L206.2 450.2 L209.6 455.2 L213 450.2 L216.4 455.2 L219.8 450.2 L223.2 455.2 L226.6 450.2 L230 455.2 L233.4 450.2 L236.8 455.2 L240.2 450.2 L243.6 455.2 L247 451.8 L247 457.2 L243.6 460.6 L240.2 455.6 L236.8 460.6 L233.4 455.6 L230 460.6 L226.6 455.6 L223.2 460.6 L219.8 455.6 L216.4 460.6 L213 455.6 L209.6 460.6 L206.2 455.6 L202.8 460.6 Z" fill="url(#gsilver)" stroke="#555b5c" stroke-width="0.4"/>
<line x1="201" y1="477.6" x2="248" y2="477.6" stroke="#e8c94a" stroke-width="1.8"/>
<circle cx="215.1" cy="477.6" r="4" fill="url(#gball)"/>
<circle cx="224.55" cy="483.05" r="4" fill="url(#gball)"/>
<circle cx="234" cy="488.5" r="4" fill="url(#gball)"/>
<line x1="201" y1="516.2" x2="248" y2="516.2" stroke="#e8c94a" stroke-width="1.8"/>
<circle cx="215.1" cy="504.8" r="4" fill="url(#gball)"/>
<circle cx="224.55" cy="510.25" r="4" fill="url(#gball)"/>
<circle cx="234" cy="515.7" r="4" fill="url(#gball)"/>
<line x1="201" y1="538" x2="248" y2="538" stroke="#e8c94a" stroke-width="1.8"/>
<circle cx="215.1" cy="532.5" r="4" fill="url(#gball)"/>
<circle cx="224.55" cy="537.95" r="4" fill="url(#gball)"/>
<circle cx="234" cy="543.4" r="4" fill="url(#gball)"/>
<circle cx="215.1" cy="614.5" r="4" fill="url(#gball)"/>
<circle cx="224.55" cy="619.95" r="4" fill="url(#gball)"/>
<circle cx="234" cy="625.4" r="4" fill="url(#gball)"/>
<rect x="216" y="557" width="18" height="16" fill="#f2f4f4" stroke="#333" stroke-width="0.6"/>
<circle cx="224.6" cy="565" r="6.5" fill="url(#gball)"/>
<rect x="216" y="584.5" width="18" height="16" fill="#f2f4f4" stroke="#333" stroke-width="0.6"/>
<circle cx="224.6" cy="592.5" r="6.5" fill="url(#gball)"/>
<rect x="227.5" y="562.6" width="15" height="4" fill="#e04848" rx="1"/>
<path d="M10 641 L58.5 641 Q61 641 61 643.5 L61 659.5 Q61 662 58.5 662 L10 662 Q7.5 662 7.5 659.5 L7.5 643.5 Q7.5 641 10 641 Z" fill="url(#gbtn)" stroke="#8e9495" stroke-width="0.8"/>
<path d="M16.25 651 L28.65 645.2 L28.65 648.6 L50.25 648.6 L50.25 653.4 L28.65 653.4 L28.65 656.8 Z" fill="url(#gsilver)" stroke="#4a4f50" stroke-width="0.5"/>
<path d="M74.2 641 L88.95 641 Q91.95 640.4 96.85 636.2 Q98.45 634.8 100.05 636.2 Q104.95 640.4 107.95 641 L122.7 641 Q125.2 641 125.2 643.5 L125.2 659.5 Q125.2 662 122.7 662 L74.2 662 Q71.7 662 71.7 659.5 L71.7 643.5 Q71.7 641 74.2 641 Z" fill="url(#gbtn)" stroke="#8e9495" stroke-width="0.8"/>
<path d="M98.45 643.3 L105.85 649.3 L105.85 653.5 L98.45 647.7 L91.05 653.5 L91.05 649.3 Z" fill="url(#gsilver)" stroke="#4a4f50" stroke-width="0.4"/>
<path d="M98.45 649.9 L105.85 655.9 L105.85 660.1 L98.45 654.3 L91.05 660.1 L91.05 655.9 Z" fill="url(#gsilver)" stroke="#4a4f50" stroke-width="0.4"/>
<path d="M137.5 641 L152.25 641 Q155.25 640.4 160.15 636.2 Q161.75 634.8 163.35 636.2 Q168.25 640.4 171.25 641 L186 641 Q188.5 641 188.5 643.5 L188.5 659.5 Q188.5 662 186 662 L137.5 662 Q135 662 135 659.5 L135 643.5 Q135 641 137.5 641 Z" fill="url(#gbtn)" stroke="#8e9495" stroke-width="0.8"/>
<circle cx="161.75" cy="651" r="9.2" fill="#000"/>
<path d="M153.55 652.8 A8.4 8.4 0 0 1 162.95 642.7" fill="none" stroke="#6d7576" stroke-width="1.3" stroke-linecap="round"/>
<path d="M200 641 L214.75 641 Q217.75 640.4 222.65 636.2 Q224.25 634.8 225.85 636.2 Q230.75 640.4 233.75 641 L248.5 641 Q251 641 251 643.5 L251 659.5 Q251 662 248.5 662 L200 662 Q197.5 662 197.5 659.5 L197.5 643.5 Q197.5 641 200 641 Z" fill="url(#gbtn)" stroke="#8e9495" stroke-width="0.8"/>
<line x1="201" y1="651" x2="248" y2="651" stroke="#e8c33c" stroke-width="2"/>
<circle cx="224.25" cy="651" r="5.3" fill="url(#gball)"/>
<path d="M327.2 641 L341.95 641 Q344.95 640.4 349.85 636.2 Q351.45 634.8 353.05 636.2 Q357.95 640.4 360.95 641 L375.7 641 Q378.2 641 378.2 643.5 L378.2 659.5 Q378.2 662 375.7 662 L327.2 662 Q324.7 662 324.7 659.5 L324.7 643.5 Q324.7 641 327.2 641 Z" fill="url(#gbtn)" stroke="#8e9495" stroke-width="0.8"/>
<rect x="347.95" y="644.6" width="14.6" height="8.4" fill="url(#gsilver2)" stroke="#5a5f60" stroke-width="0.5"/>
<rect x="342.95" y="647.4" width="14.6" height="8.4" fill="url(#gsilver2)" stroke="#5a5f60" stroke-width="0.5"/>
<rect x="338.45" y="650.5" width="14.6" height="8.4" fill="#eee028" stroke="#8a8420" stroke-width="0.6" rx="0.8"/>
<rect x="414" y="379.2" width="380" height="283" fill="#000"/>
<rect x="414" y="379.2" width="380" height="23.5" fill="#60686a"/>
<text x="415.8" y="389.1" font-size="9.4" fill="#e9eded" font-weight="bold" letter-spacing="0.13">Result graph view</text>
<text x="415.8" y="401.2" font-size="9.4" fill="#e9eded" font-weight="bold" letter-spacing="0.13">Point 40</text>
<text x="760" y="390.8" font-size="9.2" fill="#e9eded" font-weight="bold">mm</text>
<rect x="423" y="408.7" width="159.5" height="31" fill="#000" stroke="#7d8282" stroke-width="0.9"/>
<text x="424.2" y="417.6" font-size="7.65" fill="#e8e8e8">Position #40</text>
<text x="424.2" y="428.3" font-size="7.65" fill="#e8e8e8">Calculation: Best fit around 0, Zoomed in</text>
<rect x="586" y="408.7" width="71" height="31" fill="#000" stroke="#878c8c" stroke-width="1"/>
<text x="588" y="422.9" font-size="12.2" fill="#f2f2f2">V</text>
<text x="655.5" y="422.9" font-size="12.2" fill="#f2f2f2" text-anchor="end">-0.3</text>
<rect x="660" y="408.7" width="71" height="31" fill="#000" stroke="#878c8c" stroke-width="1"/>
<text x="662" y="422.9" font-size="12.2" fill="#f2f2f2">H</text>
<text x="729.5" y="422.9" font-size="12.2" fill="#f2f2f2" text-anchor="end">-0.2</text>
<rect x="734" y="408.7" width="50" height="31" fill="#000" stroke="#878c8c" stroke-width="1"/>
<text x="782.5" y="422.9" font-size="12.2" fill="#f2f2f2" text-anchor="end">0.7°</text>
<rect x="423" y="441.5" width="361.5" height="184.5" fill="#fff" stroke="#f3e7a0" stroke-width="1.2"/>
<line x1="457" y1="457" x2="768.5" y2="457" stroke="#e6dddb" stroke-width="1"/>
<line x1="457" y1="495.5" x2="768.5" y2="495.5" stroke="#e6dddb" stroke-width="1"/>
<line x1="457" y1="534" x2="768.5" y2="534" stroke="#e6dddb" stroke-width="1"/>
<line x1="457" y1="572.5" x2="768.5" y2="572.5" stroke="#e6dddb" stroke-width="1"/>
<line x1="457" y1="611" x2="768.5" y2="611" stroke="#e6dddb" stroke-width="1"/>
<line x1="472.55" y1="457" x2="472.55" y2="611" stroke="#e6dddb" stroke-width="1"/>
<line x1="488.1" y1="457" x2="488.1" y2="611" stroke="#e6dddb" stroke-width="1"/>
<line x1="503.65" y1="457" x2="503.65" y2="611" stroke="#e6dddb" stroke-width="1"/>
<line x1="519.2" y1="457" x2="519.2" y2="611" stroke="#e6dddb" stroke-width="1"/>
<line x1="534.75" y1="457" x2="534.75" y2="611" stroke="#e6dddb" stroke-width="1"/>
<line x1="550.3" y1="457" x2="550.3" y2="611" stroke="#e6dddb" stroke-width="1"/>
<line x1="565.85" y1="457" x2="565.85" y2="611" stroke="#e6dddb" stroke-width="1"/>
<line x1="581.4" y1="457" x2="581.4" y2="611" stroke="#e6dddb" stroke-width="1"/>
<line x1="596.95" y1="457" x2="596.95" y2="611" stroke="#e6dddb" stroke-width="1"/>
<line x1="612.5" y1="457" x2="612.5" y2="611" stroke="#e6dddb" stroke-width="1"/>
<line x1="628.05" y1="457" x2="628.05" y2="611" stroke="#e6dddb" stroke-width="1"/>
<line x1="643.6" y1="457" x2="643.6" y2="611" stroke="#e6dddb" stroke-width="1"/>
<line x1="659.15" y1="457" x2="659.15" y2="611" stroke="#e6dddb" stroke-width="1"/>
<line x1="674.7" y1="457" x2="674.7" y2="611" stroke="#e6dddb" stroke-width="1"/>
<line x1="690.25" y1="457" x2="690.25" y2="611" stroke="#e6dddb" stroke-width="1"/>
<line x1="705.8" y1="457" x2="705.8" y2="611" stroke="#e6dddb" stroke-width="1"/>
<line x1="721.35" y1="457" x2="721.35" y2="611" stroke="#e6dddb" stroke-width="1"/>
<line x1="736.9" y1="457" x2="736.9" y2="611" stroke="#e6dddb" stroke-width="1"/>
<line x1="752.45" y1="457" x2="752.45" y2="611" stroke="#e6dddb" stroke-width="1"/>
<line x1="768" y1="457" x2="768" y2="611" stroke="#e6dddb" stroke-width="1"/>
<line x1="456.6" y1="456" x2="456.6" y2="611.5" stroke="#4c4c4c" stroke-width="1.2"/>
<line x1="456" y1="610.8" x2="768.5" y2="610.8" stroke="#4c4c4c" stroke-width="1.2"/>
<text x="455" y="460.6" font-size="9.6" fill="#333" text-anchor="end">5</text>
<text x="455" y="499.1" font-size="9.6" fill="#333" text-anchor="end">2.5</text>
<text x="455" y="537.6" font-size="9.6" fill="#333" text-anchor="end">0</text>
<text x="455" y="576.1" font-size="9.6" fill="#333" text-anchor="end">-2.5</text>
<text x="455" y="614.6" font-size="9.6" fill="#333" text-anchor="end">-5</text>
<text x="456" y="621.6" font-size="9.6" fill="#333" text-anchor="middle">2900</text>
<text x="560.72" y="621.6" font-size="9.6" fill="#333" text-anchor="middle">3567</text>
<text x="664.28" y="621.6" font-size="9.6" fill="#333" text-anchor="middle">4233</text>
<text x="767.5" y="621.6" font-size="9.6" fill="#333" text-anchor="middle">4900</text>
<line x1="612.5" y1="455" x2="612.5" y2="611" stroke="#e6c34a" stroke-width="1.4"/>
<path d="M441.45 514 L457 516 L472.55 496 L488.1 496 L503.65 529 L519.2 531 L534.75 533 L550.3 535 L565.85 535 L581.4 536 L596.95 537 L612.5 537 L628.05 540 L643.6 556 L659.15 558 L674.7 560 L690.25 562 L705.8 563 L721.35 565 L736.9 567 L752.45 568.5 L768 570" fill="none" stroke="#39419c" stroke-width="1.5"/>
<path d="M441.45 555 L457 551 L472.55 547 L488.1 545 L503.65 543.5 L519.2 540.5 L534.75 539 L550.3 540 L565.85 516 L581.4 543 L596.95 537 L612.5 538 L628.05 541 L643.6 543 L659.15 551 L674.7 511 L690.25 487 L705.8 489 L721.35 521 L736.9 554 L752.45 559.5 L768 561.5" fill="none" stroke="#151515" stroke-width="1.5"/>
<path d="M455 514 L459 518 M455 518 L459 514" fill="none" stroke="#5560b8" stroke-width="0.8"/>
<path d="M470.55 494 L474.55 498 M470.55 498 L474.55 494" fill="none" stroke="#5560b8" stroke-width="0.8"/>
<path d="M486.1 494 L490.1 498 M486.1 498 L490.1 494" fill="none" stroke="#5560b8" stroke-width="0.8"/>
<path d="M501.65 527 L505.65 531 M501.65 531 L505.65 527" fill="none" stroke="#5560b8" stroke-width="0.8"/>
<path d="M517.2 529 L521.2 533 M517.2 533 L521.2 529" fill="none" stroke="#5560b8" stroke-width="0.8"/>
<path d="M532.75 531 L536.75 535 M532.75 535 L536.75 531" fill="none" stroke="#5560b8" stroke-width="0.8"/>
<path d="M548.3 533 L552.3 537 M548.3 537 L552.3 533" fill="none" stroke="#5560b8" stroke-width="0.8"/>
<path d="M563.85 533 L567.85 537 M563.85 537 L567.85 533" fill="none" stroke="#5560b8" stroke-width="0.8"/>
<path d="M579.4 534 L583.4 538 M579.4 538 L583.4 534" fill="none" stroke="#5560b8" stroke-width="0.8"/>
<path d="M594.95 535 L598.95 539 M594.95 539 L598.95 535" fill="none" stroke="#5560b8" stroke-width="0.8"/>
<path d="M610.5 535 L614.5 539 M610.5 539 L614.5 535" fill="none" stroke="#5560b8" stroke-width="0.8"/>
<path d="M626.05 538 L630.05 542 M626.05 542 L630.05 538" fill="none" stroke="#5560b8" stroke-width="0.8"/>
<path d="M641.6 554 L645.6 558 M641.6 558 L645.6 554" fill="none" stroke="#5560b8" stroke-width="0.8"/>
<path d="M657.15 556 L661.15 560 M657.15 560 L661.15 556" fill="none" stroke="#5560b8" stroke-width="0.8"/>
<path d="M672.7 558 L676.7 562 M672.7 562 L676.7 558" fill="none" stroke="#5560b8" stroke-width="0.8"/>
<path d="M688.25 560 L692.25 564 M688.25 564 L692.25 560" fill="none" stroke="#5560b8" stroke-width="0.8"/>
<path d="M703.8 561 L707.8 565 M703.8 565 L707.8 561" fill="none" stroke="#5560b8" stroke-width="0.8"/>
<path d="M719.35 563 L723.35 567 M719.35 567 L723.35 563" fill="none" stroke="#5560b8" stroke-width="0.8"/>
<path d="M734.9 565 L738.9 569 M734.9 569 L738.9 565" fill="none" stroke="#5560b8" stroke-width="0.8"/>
<path d="M750.45 566.5 L754.45 570.5 M750.45 570.5 L754.45 566.5" fill="none" stroke="#5560b8" stroke-width="0.8"/>
<path d="M766 568 L770 572 M766 572 L770 568" fill="none" stroke="#5560b8" stroke-width="0.8"/>
<circle cx="457" cy="551" r="2" fill="#111"/>
<circle cx="472.55" cy="547" r="2" fill="#111"/>
<circle cx="488.1" cy="545" r="2" fill="#111"/>
<circle cx="503.65" cy="543.5" r="2" fill="#111"/>
<circle cx="519.2" cy="540.5" r="2" fill="#111"/>
<circle cx="534.75" cy="539" r="2" fill="#111"/>
<circle cx="550.3" cy="540" r="2" fill="#111"/>
<circle cx="565.85" cy="516" r="2" fill="#111"/>
<circle cx="581.4" cy="543" r="2" fill="#111"/>
<circle cx="596.95" cy="537" r="2" fill="#111"/>
<circle cx="612.5" cy="538" r="2" fill="#111"/>
<circle cx="628.05" cy="541" r="2" fill="#111"/>
<circle cx="643.6" cy="543" r="2" fill="#111"/>
<circle cx="659.15" cy="551" r="2" fill="#111"/>
<circle cx="674.7" cy="511" r="2" fill="#111"/>
<circle cx="690.25" cy="487" r="2" fill="#111"/>
<circle cx="705.8" cy="489" r="2" fill="#111"/>
<circle cx="721.35" cy="521" r="2" fill="#111"/>
<circle cx="736.9" cy="554" r="2" fill="#111"/>
<circle cx="752.45" cy="559.5" r="2" fill="#111"/>
<circle cx="768" cy="561.5" r="2" fill="#111"/>
<path d="M459 601 L468 597 L468 605.5 Z" fill="#f3c230"/>
<text x="704" y="466.5" font-size="9.6" fill="#333">Ref.</text>
<rect x="726" y="460.6" width="5" height="5" fill="#e8f0e8" stroke="#6aa884" stroke-width="1"/>
<text x="745" y="466.5" font-size="9.6" fill="#333">V</text>
<line x1="751" y1="463.2" x2="769" y2="463.2" stroke="#111" stroke-width="1.2"/>
<circle cx="760" cy="463.2" r="2" fill="#111"/>
<text x="745" y="480.5" font-size="9.6" fill="#333">H</text>
<line x1="751.5" y1="477.2" x2="769" y2="477.2" stroke="#39419c" stroke-width="1.2"/>
<path d="M759.2 475.4 L762.8 479 M759.2 479 L762.8 475.4" fill="none" stroke="#39419c" stroke-width="0.8"/>
<path d="M422.5 641 L471 641 Q473.5 641 473.5 643.5 L473.5 659.5 Q473.5 662 471 662 L422.5 662 Q420 662 420 659.5 L420 643.5 Q420 641 422.5 641 Z" fill="url(#gbtn)" stroke="#8e9495" stroke-width="0.8"/>
<path d="M428.75 651 L441.15 645.2 L441.15 648.6 L462.75 648.6 L462.75 653.4 L441.15 653.4 L441.15 656.8 Z" fill="url(#gsilver)" stroke="#4a4f50" stroke-width="0.5"/>
<path d="M486 641 L500.75 641 Q503.75 640.4 508.65 636.2 Q510.25 634.8 511.85 636.2 Q516.75 640.4 519.75 641 L534.5 641 Q537 641 537 643.5 L537 659.5 Q537 662 534.5 662 L486 662 Q483.5 662 483.5 659.5 L483.5 643.5 Q483.5 641 486 641 Z" fill="url(#gbtn)" stroke="#8e9495" stroke-width="0.8"/>
<path d="M510.25 643.3 L517.65 649.3 L517.65 653.5 L510.25 647.7 L502.85 653.5 L502.85 649.3 Z" fill="url(#gsilver)" stroke="#4a4f50" stroke-width="0.4"/>
<path d="M510.25 649.9 L517.65 655.9 L517.65 660.1 L510.25 654.3 L502.85 660.1 L502.85 655.9 Z" fill="url(#gsilver)" stroke="#4a4f50" stroke-width="0.4"/>
<path d="M549 641 L563.75 641 Q566.75 640.4 571.65 636.2 Q573.25 634.8 574.85 636.2 Q579.75 640.4 582.75 641 L597.5 641 Q600 641 600 643.5 L600 659.5 Q600 662 597.5 662 L549 662 Q546.5 662 546.5 659.5 L546.5 643.5 Q546.5 641 549 641 Z" fill="url(#gbtn)" stroke="#8e9495" stroke-width="0.8"/>
<circle cx="573.25" cy="651" r="9.2" fill="#000"/>
<path d="M565.05 652.8 A8.4 8.4 0 0 1 574.45 642.7" fill="none" stroke="#6d7576" stroke-width="1.3" stroke-linecap="round"/>
<path d="M613.5 641 L628.25 641 Q631.25 640.4 636.15 636.2 Q637.75 634.8 639.35 636.2 Q644.25 640.4 647.25 641 L662 641 Q664.5 641 664.5 643.5 L664.5 659.5 Q664.5 662 662 662 L613.5 662 Q611 662 611 659.5 L611 643.5 Q611 641 613.5 641 Z" fill="url(#gbtn)" stroke="#8e9495" stroke-width="0.8"/>
<line x1="614.5" y1="651" x2="661.5" y2="651" stroke="#e8c33c" stroke-width="2"/>
<circle cx="637.75" cy="651" r="5.3" fill="url(#gball)"/>
<path d="M739.5 641 L754.25 641 Q757.25 640.4 762.15 636.2 Q763.75 634.8 765.35 636.2 Q770.25 640.4 773.25 641 L788 641 Q790.5 641 790.5 643.5 L790.5 659.5 Q790.5 662 788 662 L739.5 662 Q737 662 737 659.5 L737 643.5 Q737 641 739.5 641 Z" fill="url(#gbtn)" stroke="#8e9495" stroke-width="0.8"/>
<rect x="760.25" y="644.6" width="14.6" height="8.4" fill="url(#gsilver2)" stroke="#5a5f60" stroke-width="0.5"/>
<rect x="755.25" y="647.4" width="14.6" height="8.4" fill="url(#gsilver2)" stroke="#5a5f60" stroke-width="0.5"/>
<rect x="750.75" y="650.5" width="14.6" height="8.4" fill="#eee028" stroke="#8a8420" stroke-width="0.6" rx="0.8"/>
<rect x="5.2" y="710" width="4" height="277.4" fill="#000"/>
<rect x="5.2" y="710" width="4" height="23.1" fill="#60686a"/>
<g transform="translate(6.97 710) scale(0.983 0.9853)">
<rect x="0" y="0" width="377" height="281.5" fill="#000"/>
<rect x="0" y="0" width="377" height="23.5" fill="#60686a"/>
<text x="1.8" y="9.9" font-size="9.4" fill="#e9eded" font-weight="bold" letter-spacing="0.13">Result table view</text>
<text x="1.8" y="22" font-size="9.4" fill="#e9eded" font-weight="bold" letter-spacing="0.13">Point 6</text>
<text x="343" y="11.6" font-size="9.2" fill="#e9eded" font-weight="bold">mm</text>
<rect x="7" y="35.5" width="174" height="47" fill="#000" stroke="#9aa05c" stroke-width="0.9"/>
<text x="8.2" y="44.4" font-size="7.65" fill="#e8e8e8">Position #6</text>
<text x="8.2" y="55.1" font-size="7.65" fill="#e8e8e8">Reference points: 6</text>
<rect x="6.5" y="103" width="174" height="110.6" fill="#d2d2d2"/>
<rect x="6.5" y="88" width="174" height="15" fill="#000" stroke="#8a8f8f" stroke-width="0.9"/>
<line x1="105.7" y1="88" x2="105.7" y2="103" stroke="#8a8f8f" stroke-width="0.9"/>
<line x1="145.5" y1="88" x2="145.5" y2="103" stroke="#8a8f8f" stroke-width="0.9"/>
<text x="107.7" y="100.6" font-size="12.2" fill="#f2f2f2">V</text>
<text x="147.5" y="100.6" font-size="12.2" fill="#f2f2f2">H</text>
<line x1="6.5" y1="105.3" x2="180.5" y2="105.3" stroke="#e6e6e6" stroke-width="1"/>
<line x1="6.5" y1="120.6" x2="180.5" y2="120.6" stroke="#e6e6e6" stroke-width="1"/>
<line x1="6.5" y1="135.9" x2="180.5" y2="135.9" stroke="#e6e6e6" stroke-width="1"/>
<line x1="6.5" y1="151.2" x2="180.5" y2="151.2" stroke="#e6e6e6" stroke-width="1"/>
<line x1="6.5" y1="166.5" x2="180.5" y2="166.5" stroke="#e6e6e6" stroke-width="1"/>
<line x1="6.5" y1="181.8" x2="180.5" y2="181.8" stroke="#e6e6e6" stroke-width="1"/>
<line x1="6.5" y1="197.1" x2="180.5" y2="197.1" stroke="#e6e6e6" stroke-width="1"/>
<line x1="6.5" y1="212.4" x2="180.5" y2="212.4" stroke="#e6e6e6" stroke-width="1"/>
<line x1="105.7" y1="103" x2="105.7" y2="197.1" stroke="#e6e6e6" stroke-width="1"/>
<line x1="145.5" y1="103" x2="145.5" y2="197.1" stroke="#e6e6e6" stroke-width="1"/>
<text x="10.1" y="116.6" font-size="11.5" fill="#111" stroke="#111" stroke-width="0.18">Max</text>
<text x="109.2" y="116.6" font-size="11.5" fill="#111" stroke="#111" stroke-width="0.18">2.5</text>
<text x="149" y="116.6" font-size="11.5" fill="#111" stroke="#111" stroke-width="0.18">1.0</text>
<text x="10.1" y="131.9" font-size="11.5" fill="#111" stroke="#111" stroke-width="0.18">Min</text>
<text x="109.2" y="131.9" font-size="11.5" fill="#111" stroke="#111" stroke-width="0.18">-0.9</text>
<text x="149" y="131.9" font-size="11.5" fill="#111" stroke="#111" stroke-width="0.18">-2.0</text>
<text x="10.1" y="147.2" font-size="11.5" fill="#111" stroke="#111" stroke-width="0.18">Peak-peak</text>
<text x="109.2" y="147.2" font-size="11.5" fill="#111" stroke="#111" stroke-width="0.18">3.4</text>
<text x="149" y="147.2" font-size="11.5" fill="#111" stroke="#111" stroke-width="0.18">3.0</text>
<text x="10.1" y="162.5" font-size="11.5" fill="#111" stroke="#111" stroke-width="0.18">Stddev</text>
<text x="109.2" y="162.5" font-size="11.5" fill="#111" stroke="#111" stroke-width="0.18">1.2</text>
<text x="149" y="162.5" font-size="11.5" fill="#111" stroke="#111" stroke-width="0.18">1.1</text>
<text x="10.1" y="177.8" font-size="11.5" fill="#111" stroke="#111" stroke-width="0.18">RMS</text>
<text x="109.2" y="177.8" font-size="11.5" fill="#111" stroke="#111" stroke-width="0.18">1.3</text>
<text x="149" y="177.8" font-size="11.5" fill="#111" stroke="#111" stroke-width="0.18">1.3</text>
<text x="10.1" y="193.1" font-size="11.5" fill="#111" stroke="#111" stroke-width="0.18">Max waviness</text>
<text x="109.2" y="193.1" font-size="11.5" fill="#111" stroke="#111" stroke-width="0.18">0.9</text>
<text x="149" y="193.1" font-size="11.5" fill="#111" stroke="#111" stroke-width="0.18">1.0</text>
<rect x="6.5" y="103" width="174" height="110.6" fill="none" stroke="#f0f0f0" stroke-width="0.8"/>
<rect x="182" y="35.5" width="187" height="206" fill="#d2d2d2" stroke="#c9cc66" stroke-width="1.2"/>
<rect x="182" y="35.5" width="187" height="15.5" fill="#000" stroke="#9a9f6a" stroke-width="0.9"/>
<line x1="212" y1="35.5" x2="212" y2="51" stroke="#9a9f9a" stroke-width="0.9"/>
<line x1="252" y1="35.5" x2="252" y2="51" stroke="#9a9f9a" stroke-width="0.9"/>
<line x1="292" y1="35.5" x2="292" y2="51" stroke="#9a9f9a" stroke-width="0.9"/>
<line x1="322" y1="35.5" x2="322" y2="51" stroke="#9a9f9a" stroke-width="0.9"/>
<text x="184" y="48.3" font-size="11.9" fill="#f2f2f2">#</text>
<text x="213.8" y="48.3" font-size="11.9" fill="#f2f2f2">V</text>
<text x="253.8" y="48.3" font-size="11.9" fill="#f2f2f2">H</text>
<text x="293.6" y="48.3" font-size="11.9" fill="#f2f2f2">Ref.</text>
<text x="323.8" y="48.3" font-size="11.9" fill="#f2f2f2">Dist.</text>
<line x1="183" y1="51.1" x2="368" y2="51.1" stroke="#e6e6e6" stroke-width="1"/>
<line x1="183" y1="66.41" x2="368" y2="66.41" stroke="#e6e6e6" stroke-width="1"/>
<line x1="183" y1="81.71" x2="368" y2="81.71" stroke="#e6e6e6" stroke-width="1"/>
<line x1="183" y1="97.02" x2="368" y2="97.02" stroke="#e6e6e6" stroke-width="1"/>
<line x1="183" y1="112.32" x2="368" y2="112.32" stroke="#e6e6e6" stroke-width="1"/>
<line x1="183" y1="127.62" x2="368" y2="127.62" stroke="#e6e6e6" stroke-width="1"/>
<line x1="183" y1="142.93" x2="368" y2="142.93" stroke="#e6e6e6" stroke-width="1"/>
<line x1="183" y1="158.23" x2="368" y2="158.23" stroke="#e6e6e6" stroke-width="1"/>
<line x1="183" y1="173.54" x2="368" y2="173.54" stroke="#e6e6e6" stroke-width="1"/>
<line x1="183" y1="188.84" x2="368" y2="188.84" stroke="#e6e6e6" stroke-width="1"/>
<line x1="183" y1="204.15" x2="368" y2="204.15" stroke="#e6e6e6" stroke-width="1"/>
<line x1="212" y1="51.1" x2="212" y2="204.15" stroke="#e6e6e6" stroke-width="1"/>
<line x1="252" y1="51.1" x2="252" y2="204.15" stroke="#e6e6e6" stroke-width="1"/>
<line x1="292" y1="51.1" x2="292" y2="204.15" stroke="#e6e6e6" stroke-width="1"/>
<line x1="322" y1="51.1" x2="322" y2="204.15" stroke="#e6e6e6" stroke-width="1"/>
<rect x="182.6" y="128.03" width="185.8" height="14.71" fill="#fff" stroke="#ede43a" stroke-width="1.6"/>
<text x="185" y="63.3" font-size="11.9" fill="#111" stroke="#111" stroke-width="0.18">1</text>
<text x="215.5" y="63.3" font-size="11.9" fill="#111" stroke="#111" stroke-width="0.18">1.6</text>
<text x="255.5" y="63.3" font-size="11.9" fill="#111" stroke="#111" stroke-width="0.18">-1.9</text>
<text x="325.5" y="63.3" font-size="11.9" fill="#111" stroke="#111" stroke-width="0.18">100</text>
<text x="185" y="78.61" font-size="11.9" fill="#111" stroke="#111" stroke-width="0.18">2</text>
<text x="215.5" y="78.61" font-size="11.9" fill="#111" stroke="#111" stroke-width="0.18">2.5</text>
<text x="255.5" y="78.61" font-size="11.9" fill="#111" stroke="#111" stroke-width="0.18">-2.0</text>
<text x="325.5" y="78.61" font-size="11.9" fill="#111" stroke="#111" stroke-width="0.18">250</text>
<text x="185" y="93.91" font-size="11.9" fill="#111" stroke="#111" stroke-width="0.18">3</text>
<text x="215.5" y="93.91" font-size="11.9" fill="#111" stroke="#111" stroke-width="0.18">2.1</text>
<text x="255.5" y="93.91" font-size="11.9" fill="#111" stroke="#111" stroke-width="0.18">-1.9</text>
<text x="325.5" y="93.91" font-size="11.9" fill="#111" stroke="#111" stroke-width="0.18">300</text>
<text x="185" y="109.22" font-size="11.9" fill="#111" stroke="#111" stroke-width="0.18">4</text>
<text x="215.5" y="109.22" font-size="11.9" fill="#111" stroke="#111" stroke-width="0.18">0.9</text>
<text x="255.5" y="109.22" font-size="11.9" fill="#111" stroke="#111" stroke-width="0.18">-1.7</text>
<text x="325.5" y="109.22" font-size="11.9" fill="#111" stroke="#111" stroke-width="0.18">400</text>
<text x="185" y="124.52" font-size="11.9" fill="#111" stroke="#111" stroke-width="0.18">5</text>
<text x="215.5" y="124.52" font-size="11.9" fill="#111" stroke="#111" stroke-width="0.18">0.9</text>
<text x="255.5" y="124.52" font-size="11.9" fill="#111" stroke="#111" stroke-width="0.18">-0.7</text>
<text x="325.5" y="124.52" font-size="11.9" fill="#111" stroke="#111" stroke-width="0.18">450</text>
<text x="185" y="139.82" font-size="11.9" fill="#111" stroke="#111" stroke-width="0.18">6</text>
<text x="215.5" y="139.82" font-size="11.9" fill="#111" stroke="#111" stroke-width="0.18">0.0</text>
<text x="255.5" y="139.82" font-size="11.9" fill="#111" stroke="#111" stroke-width="0.18">0.0</text>
<text x="325.5" y="139.82" font-size="11.9" fill="#111" stroke="#111" stroke-width="0.18">490</text>
<text x="185" y="155.13" font-size="11.9" fill="#111" stroke="#111" stroke-width="0.18">7</text>
<text x="215.5" y="155.13" font-size="11.9" fill="#111" stroke="#111" stroke-width="0.18">-0.9</text>
<text x="255.5" y="155.13" font-size="11.9" fill="#111" stroke="#111" stroke-width="0.18">0.0</text>
<text x="325.5" y="155.13" font-size="11.9" fill="#111" stroke="#111" stroke-width="0.18">600</text>
<text x="185" y="170.43" font-size="11.9" fill="#111" stroke="#111" stroke-width="0.18">8</text>
<text x="215.5" y="170.43" font-size="11.9" fill="#111" stroke="#111" stroke-width="0.18">-0.9</text>
<text x="255.5" y="170.43" font-size="11.9" fill="#111" stroke="#111" stroke-width="0.18">0.0</text>
<text x="325.5" y="170.43" font-size="11.9" fill="#111" stroke="#111" stroke-width="0.18">640</text>
<text x="185" y="185.74" font-size="11.9" fill="#111" stroke="#111" stroke-width="0.18">9</text>
<text x="215.5" y="185.74" font-size="11.9" fill="#111" stroke="#111" stroke-width="0.18">-0.8</text>
<text x="255.5" y="185.74" font-size="11.9" fill="#111" stroke="#111" stroke-width="0.18">1.0</text>
<text x="325.5" y="185.74" font-size="11.9" fill="#111" stroke="#111" stroke-width="0.18">700</text>
<text x="185" y="201.04" font-size="11.9" fill="#111" stroke="#111" stroke-width="0.18">10</text>
<text x="215.5" y="201.04" font-size="11.9" fill="#111" stroke="#111" stroke-width="0.18">0.6</text>
<text x="255.5" y="201.04" font-size="11.9" fill="#111" stroke="#111" stroke-width="0.18">0.7</text>
<text x="325.5" y="201.04" font-size="11.9" fill="#111" stroke="#111" stroke-width="0.18">1000</text>
<rect x="298.5" y="130.08" width="10.4" height="10.4" fill="#f4f4f4" stroke="#222" stroke-width="0.9"/>
<circle cx="303.7" cy="135.28" r="3.6" fill="#000"/>
<path d="M6.5 260.5 L55 260.5 Q57.5 260.5 57.5 263 L57.5 279 Q57.5 281.5 55 281.5 L6.5 281.5 Q4 281.5 4 279 L4 263 Q4 260.5 6.5 260.5 Z" fill="url(#gbtn)" stroke="#8e9495" stroke-width="0.8"/>
<path d="M12.75 270.5 L25.15 264.7 L25.15 268.1 L46.75 268.1 L46.75 272.9 L25.15 272.9 L25.15 276.3 Z" fill="url(#gsilver)" stroke="#4a4f50" stroke-width="0.5"/>
<path d="M69.7 260.5 L84.45 260.5 Q87.45 259.9 92.35 255.7 Q93.95 254.3 95.55 255.7 Q100.45 259.9 103.45 260.5 L118.2 260.5 Q120.7 260.5 120.7 263 L120.7 279 Q120.7 281.5 118.2 281.5 L69.7 281.5 Q67.2 281.5 67.2 279 L67.2 263 Q67.2 260.5 69.7 260.5 Z" fill="url(#gbtn)" stroke="#8e9495" stroke-width="0.8"/>
<path d="M93.95 262.8 L101.35 268.8 L101.35 273 L93.95 267.2 L86.55 273 L86.55 268.8 Z" fill="url(#gsilver)" stroke="#4a4f50" stroke-width="0.4"/>
<path d="M93.95 269.4 L101.35 275.4 L101.35 279.6 L93.95 273.8 L86.55 279.6 L86.55 275.4 Z" fill="url(#gsilver)" stroke="#4a4f50" stroke-width="0.4"/>
<path d="M132.8 260.5 L147.55 260.5 Q150.55 259.9 155.45 255.7 Q157.05 254.3 158.65 255.7 Q163.55 259.9 166.55 260.5 L181.3 260.5 Q183.8 260.5 183.8 263 L183.8 279 Q183.8 281.5 181.3 281.5 L132.8 281.5 Q130.3 281.5 130.3 279 L130.3 263 Q130.3 260.5 132.8 260.5 Z" fill="url(#gbtn)" stroke="#8e9495" stroke-width="0.8"/>
<circle cx="157.05" cy="270.5" r="9.2" fill="#000"/>
<path d="M148.85 272.3 A8.4 8.4 0 0 1 158.25 262.2" fill="none" stroke="#6d7576" stroke-width="1.3" stroke-linecap="round"/>
<path d="M196.5 260.5 L211.25 260.5 Q214.25 259.9 219.15 255.7 Q220.75 254.3 222.35 255.7 Q227.25 259.9 230.25 260.5 L245 260.5 Q247.5 260.5 247.5 263 L247.5 279 Q247.5 281.5 245 281.5 L196.5 281.5 Q194 281.5 194 279 L194 263 Q194 260.5 196.5 260.5 Z" fill="url(#gbtn)" stroke="#8e9495" stroke-width="0.8"/>
<line x1="197.5" y1="270.5" x2="244.5" y2="270.5" stroke="#e8c33c" stroke-width="2"/>
<circle cx="220.75" cy="270.5" r="5.3" fill="url(#gball)"/>
<path d="M322.3 260.5 L337.05 260.5 Q340.05 259.9 344.95 255.7 Q346.55 254.3 348.15 255.7 Q353.05 259.9 356.05 260.5 L370.8 260.5 Q373.3 260.5 373.3 263 L373.3 279 Q373.3 281.5 370.8 281.5 L322.3 281.5 Q319.8 281.5 319.8 279 L319.8 263 Q319.8 260.5 322.3 260.5 Z" fill="url(#gbtn)" stroke="#8e9495" stroke-width="0.8"/>
<rect x="343.05" y="264.1" width="14.6" height="8.4" fill="url(#gsilver2)" stroke="#5a5f60" stroke-width="0.5"/>
<rect x="338.05" y="266.9" width="14.6" height="8.4" fill="url(#gsilver2)" stroke="#5a5f60" stroke-width="0.5"/>
<rect x="333.55" y="270" width="14.6" height="8.4" fill="#eee028" stroke="#8a8420" stroke-width="0.6" rx="0.8"/>
</g>
<rect x="80" y="737" width="221" height="221" fill="#fff" stroke="#cfdde6" stroke-width="1.6"/>
<circle cx="191.6" cy="844.2" r="83" fill="none" stroke="#e6f3f6" stroke-width="1"/>
<circle cx="191.6" cy="844.2" r="62.5" fill="none" stroke="#e6f3f6" stroke-width="1"/>
<circle cx="191.6" cy="844.2" r="45" fill="none" stroke="#e6f3f6" stroke-width="1"/>
<line x1="191.6" y1="844.2" x2="191.6" y2="761.2" stroke="#e6f3f6" stroke-width="1"/>
<line x1="214.1" y1="805.23" x2="233.1" y2="772.32" stroke="#e6f3f6" stroke-width="1" stroke-dasharray="3 2"/>
<line x1="230.57" y1="821.7" x2="263.48" y2="802.7" stroke="#e6f3f6" stroke-width="1" stroke-dasharray="3 2"/>
<line x1="191.6" y1="844.2" x2="274.6" y2="844.2" stroke="#e6f3f6" stroke-width="1"/>
<line x1="230.57" y1="866.7" x2="263.48" y2="885.7" stroke="#e6f3f6" stroke-width="1" stroke-dasharray="3 2"/>
<line x1="214.1" y1="883.17" x2="233.1" y2="916.08" stroke="#e6f3f6" stroke-width="1" stroke-dasharray="3 2"/>
<line x1="191.6" y1="844.2" x2="191.6" y2="927.2" stroke="#e6f3f6" stroke-width="1"/>
<line x1="169.1" y1="883.17" x2="150.1" y2="916.08" stroke="#e6f3f6" stroke-width="1" stroke-dasharray="3 2"/>
<line x1="152.63" y1="866.7" x2="119.72" y2="885.7" stroke="#e6f3f6" stroke-width="1" stroke-dasharray="3 2"/>
<line x1="191.6" y1="844.2" x2="108.6" y2="844.2" stroke="#e6f3f6" stroke-width="1"/>
<line x1="152.63" y1="821.7" x2="119.72" y2="802.7" stroke="#e6f3f6" stroke-width="1" stroke-dasharray="3 2"/>
<line x1="169.1" y1="805.23" x2="150.1" y2="772.32" stroke="#e6f3f6" stroke-width="1" stroke-dasharray="3 2"/>
<ellipse cx="196.7" cy="851.4" rx="51.5" ry="48.5" fill="none" stroke="#6fa284" stroke-width="1"/>
<path d="M191.6 796 L216.4 802.5 L233.3 821.6 L239.7 842.7 L236.9 847.5 L235.5 881.2 L221.2 918.4 L191.6 908 L171.4 878.4 L153.7 864.9 L149.5 844.1 L153.7 821.6 L172.2 805.3 Z" fill="none" stroke="#3a449e" stroke-width="1.4"/>
<path d="M195.2 849.5 L198.2 852.5 M195.2 852.5 L198.2 849.5" fill="none" stroke="#9ab48a" stroke-width="0.7"/>
<text x="191.6" y="759.5" font-size="8.8" fill="#333" text-anchor="middle">0°</text>
<text x="191.6" y="934.5" font-size="8.8" fill="#333" text-anchor="middle">180°</text>
<text x="99.7" y="847.4" font-size="8.8" fill="#333" text-anchor="middle">270°</text>
<text x="282.5" y="847.4" font-size="8.8" fill="#333" text-anchor="middle">90°</text>
<text x="253.6" y="752.6" font-size="8.8" fill="#333">Empty</text>
<text x="253.6" y="764.8" font-size="8.8" fill="#333">Empty</text>
<line x1="278.5" y1="749.6" x2="295.5" y2="749.6" stroke="#8088c0" stroke-width="1"/>
<line x1="278.5" y1="761.8" x2="295.5" y2="761.8" stroke="#6fa888" stroke-width="1"/>
<path d="M253 903.5 L253 923 L275 923" fill="none" stroke="#444" stroke-width="1"/>
<text x="255.2" y="921.3" font-size="8.3" fill="#333">0,2 mm</text>
<rect x="417.2" y="706" width="375.6" height="281.5" fill="#000"/>
<rect x="417.2" y="706" width="375.6" height="24.5" fill="#666666"/>
<text x="419.8" y="716.9" font-size="9.75" fill="#ececec" font-weight="bold">Result roundness</text>
<text x="621.8" y="718.9" font-size="9.9" fill="#ececec" font-weight="bold">07:26</text>
<text x="759.4" y="718.3" font-size="9.4" fill="#ececec" font-weight="bold">mm</text>
<path d="M756.3 727.6 q1.8 -9 3.6 -2 q1.6 6 3.2 0 q1.6 -6 3.2 0 q1 3 4.6 0.6" fill="none" stroke="#e8e23a" stroke-width="1.5"/>
<text x="771.8" y="728.9" font-size="9.8" fill="#ececec" font-weight="bold">0</text>
<rect x="418" y="731" width="143" height="153.5" fill="#fbf1e7"/>
<rect x="418" y="731" width="143" height="15.3" fill="#000"/>
<rect x="418.4" y="731.4" width="142" height="153" fill="none" stroke="#d8d860" stroke-width="1"/>
<line x1="418.5" y1="746" x2="418.5" y2="884" stroke="#eaea40" stroke-width="1.6"/>
<line x1="442.5" y1="732" x2="442.5" y2="746" stroke="#777" stroke-width="0.8"/>
<text x="419.8" y="743.4" font-size="11.4" fill="#f4f4f4" font-weight="bold" font-style="italic">#</text>
<text x="444.7" y="743.2" font-size="11.1" fill="#f4f4f4" stroke="#f4f4f4" stroke-width="0.2">Ovality</text>
<rect x="418.8" y="746.8" width="134.5" height="15.6" fill="#fff" stroke="#ece63e" stroke-width="1.6"/>
<text x="420.7" y="759" font-size="11.7" fill="#111" stroke="#111" stroke-width="0.4">1</text>
<text x="445.5" y="759" font-size="11.7" fill="#111" stroke="#111" stroke-width="0.4">0.23</text>
<text x="420.7" y="774.32" font-size="11.7" fill="#111" stroke="#111" stroke-width="0.4">2</text>
<text x="445.5" y="774.32" font-size="11.7" fill="#111" stroke="#111" stroke-width="0.4">0.18</text>
<text x="420.7" y="789.64" font-size="11.7" fill="#111" stroke="#111" stroke-width="0.4">3</text>
<text x="445.5" y="789.64" font-size="11.7" fill="#111" stroke="#111" stroke-width="0.4">-0.05</text>
<text x="420.7" y="804.96" font-size="11.7" fill="#111" stroke="#111" stroke-width="0.4">4</text>
<text x="445.5" y="804.96" font-size="11.7" fill="#111" stroke="#111" stroke-width="0.4">-0.34</text>
<text x="420.7" y="820.28" font-size="11.7" fill="#111" stroke="#111" stroke-width="0.4">5</text>
<text x="445.5" y="820.28" font-size="11.7" fill="#111" stroke="#111" stroke-width="0.4">-0.50</text>
<text x="420.7" y="835.6" font-size="11.7" fill="#111" stroke="#111" stroke-width="0.4">6</text>
<text x="445.5" y="835.6" font-size="11.7" fill="#111" stroke="#111" stroke-width="0.4">1.14</text>
<text x="420.7" y="850.92" font-size="11.7" fill="#111" stroke="#111" stroke-width="0.4">7</text>
<text x="445.5" y="850.92" font-size="11.7" fill="#111" stroke="#111" stroke-width="0.4">-0.33</text>
<text x="420.7" y="866.24" font-size="11.7" fill="#111" stroke="#111" stroke-width="0.4">8</text>
<text x="445.5" y="866.24" font-size="11.7" fill="#111" stroke="#111" stroke-width="0.4">-0.22</text>
<text x="420.7" y="881.56" font-size="11.7" fill="#111" stroke="#111" stroke-width="0.4">9</text>
<text x="445.5" y="881.56" font-size="11.7" fill="#111" stroke="#111" stroke-width="0.4">-0.09</text>
<rect x="554.6" y="748" width="4.6" height="136.5" fill="#55587a"/>
<rect x="554.6" y="748" width="4.6" height="88" fill="#e8e8ee" stroke="#555" stroke-width="0.6"/>
<rect x="418" y="884.3" width="143.5" height="15.2" fill="#000"/>
<text x="419.8" y="896" font-size="10.9" fill="#f4f4f4" stroke="#f4f4f4" stroke-width="0.25">Statistics</text>
<rect x="418" y="899.5" width="143.5" height="60.5" fill="#d1d1d1"/>
<text x="419.7" y="910.8" font-size="11.1" fill="#111" stroke="#111" stroke-width="0.2">Ovality: 0.31</text>
<text x="419.7" y="925.35" font-size="11.1" fill="#111" stroke="#111" stroke-width="0.2">Ellipse fitting RMS: 0.39</text>
<text x="419.7" y="939.9" font-size="11.1" fill="#111" stroke="#111" stroke-width="0.2">Fitting error: 0.13</text>
<rect x="563.6" y="731.5" width="227.4" height="227" fill="#fff"/>
<rect x="790.8" y="730.5" width="2" height="228.5" fill="#aaaaaa"/>
<line x1="562.6" y1="731" x2="562.6" y2="959" stroke="#333" stroke-width="1"/>
<circle cx="679.1" cy="844.9" r="89" fill="none" stroke="#6a6a6a" stroke-width="1"/>
<circle cx="679.1" cy="844.9" r="67" fill="none" stroke="#efeff4" stroke-width="1"/>
<circle cx="679.1" cy="844.9" r="45" fill="none" stroke="#efeff4" stroke-width="1"/>
<line x1="679.1" y1="799.9" x2="679.1" y2="755.9" stroke="#efeff4" stroke-width="1"/>
<line x1="701.6" y1="805.93" x2="723.6" y2="767.82" stroke="#efeff4" stroke-width="1"/>
<line x1="718.07" y1="822.4" x2="756.18" y2="800.4" stroke="#efeff4" stroke-width="1"/>
<line x1="724.1" y1="844.9" x2="768.1" y2="844.9" stroke="#efeff4" stroke-width="1"/>
<line x1="718.07" y1="867.4" x2="756.18" y2="889.4" stroke="#efeff4" stroke-width="1"/>
<line x1="701.6" y1="883.87" x2="723.6" y2="921.98" stroke="#efeff4" stroke-width="1"/>
<line x1="679.1" y1="889.9" x2="679.1" y2="933.9" stroke="#efeff4" stroke-width="1"/>
<line x1="656.6" y1="883.87" x2="634.6" y2="921.98" stroke="#efeff4" stroke-width="1"/>
<line x1="640.13" y1="867.4" x2="602.02" y2="889.4" stroke="#efeff4" stroke-width="1"/>
<line x1="634.1" y1="844.9" x2="590.1" y2="844.9" stroke="#efeff4" stroke-width="1"/>
<line x1="640.13" y1="822.4" x2="602.02" y2="800.4" stroke="#efeff4" stroke-width="1"/>
<line x1="656.6" y1="805.93" x2="634.6" y2="767.82" stroke="#efeff4" stroke-width="1"/>
<line x1="590.1" y1="844.9" x2="768.1" y2="844.9" stroke="#efeff4" stroke-width="1"/>
<line x1="679.1" y1="755.9" x2="679.1" y2="933.9" stroke="#efeff4" stroke-width="1"/>
<path d="M679.1 775.6 L706.4 785.8 L743 843.1 L739.4 878.2 L712.1 902.2 L679.1 909.4 L662.6 906.7 L628.7 906.7 L618.2 849.4 L615.8 839.8 L623.3 808.9 L647.9 784 Z" fill="none" stroke="#2222b4" stroke-width="1.4"/>
<circle cx="706.4" cy="785.8" r="3" fill="#1414b0"/>
<circle cx="743" cy="843.1" r="3" fill="#1414b0"/>
<circle cx="739.4" cy="878.2" r="3" fill="#1414b0"/>
<circle cx="712.1" cy="902.2" r="3" fill="#1414b0"/>
<circle cx="679.1" cy="909.4" r="3" fill="#1414b0"/>
<circle cx="662.6" cy="906.7" r="3" fill="#1414b0"/>
<circle cx="628.7" cy="906.7" r="3" fill="#1414b0"/>
<circle cx="618.2" cy="849.4" r="3" fill="#1414b0"/>
<circle cx="615.8" cy="839.8" r="3" fill="#1414b0"/>
<circle cx="623.3" cy="808.9" r="3" fill="#1414b0"/>
<circle cx="647.9" cy="784" r="3" fill="#1414b0"/>
<circle cx="679.1" cy="775.6" r="3" fill="#e8ee30"/>
<path d="M675.1 844.9 h8 M679.1 840.9 v8" fill="none" stroke="#e03030" stroke-width="1"/>
<text x="679" y="750" font-size="9" fill="#444" text-anchor="middle">180°</text>
<text x="679" y="947" font-size="9" fill="#444" text-anchor="middle">0°</text>
<text x="581" y="848.2" font-size="9" fill="#444" text-anchor="middle">90°</text>
<text x="778.5" y="848.2" font-size="9" fill="#444" text-anchor="middle">-90°</text>
<text x="679" y="786.4" font-size="8.6" fill="#666">0.23</text>
<text x="772" y="940" font-size="9" fill="#5a5a5a" text-anchor="end">Selected</text>
<text x="772" y="954.4" font-size="9" fill="#5a5a5a" text-anchor="end">Values</text>
<circle cx="781.2" cy="936.6" r="3.4" fill="#e6ee2c"/>
<circle cx="781.2" cy="951" r="3.4" fill="#0a0aa8"/>
<path d="M571.5 932.5 q10 -5 21 0 M571.5 952.5 q10 5 21 0" fill="none" stroke="#555" stroke-width="0.9"/>
<path d="M582.5 931 v22 M579.5 935.5 l3 -4.5 l3 4.5 M579.5 948.5 l3 4.5 l3 -4.5" fill="none" stroke="#444" stroke-width="0.9"/>
<text x="590" y="948.6" font-size="8.8" fill="#444">2.00 mm</text>
<clipPath id="c6"><rect x="417" y="700" width="376" height="287.5"/></clipPath><g clip-path="url(#c6)">
<path d="M425 967.5 L474 967.5 Q476.5 967.5 476.5 970 L476.5 989 Q476.5 991.5 474 991.5 L425 991.5 Q422.5 991.5 422.5 989 L422.5 970 Q422.5 967.5 425 967.5 Z" fill="url(#gbtn)" stroke="#8e9495" stroke-width="0.8"/>
<path d="M431.5 977.5 L443.9 971.7 L443.9 975.1 L465.5 975.1 L465.5 979.9 L443.9 979.9 L443.9 983.3 Z" fill="url(#gsilver)" stroke="#4a4f50" stroke-width="0.5"/>
<path d="M487.5 967.5 L502.5 967.5 Q505.5 966.9 510.4 962.7 Q512 961.3 513.6 962.7 Q518.5 966.9 521.5 967.5 L536.5 967.5 Q539 967.5 539 970 L539 989 Q539 991.5 536.5 991.5 L487.5 991.5 Q485 991.5 485 989 L485 970 Q485 967.5 487.5 967.5 Z" fill="url(#gbtn)" stroke="#8e9495" stroke-width="0.8"/>
<path d="M512 969.8 L519.4 975.8 L519.4 980 L512 974.2 L504.6 980 L504.6 975.8 Z" fill="url(#gsilver)" stroke="#4a4f50" stroke-width="0.4"/>
<path d="M512 976.4 L519.4 982.4 L519.4 986.6 L512 980.8 L504.6 986.6 L504.6 982.4 Z" fill="url(#gsilver)" stroke="#4a4f50" stroke-width="0.4"/>
</g>
<text transform="translate(490.5 423) scale(1.18 1)" x="0" y="0" font-size="21.5" font-weight="500" fill="#b0b0b0" fill-opacity="0.62" stroke="#b0b0b0" stroke-opacity="0.5" stroke-width="0.5" letter-spacing="2.06" font-family="'Liberation Sans','Noto Sans CJK SC','WenQuanYi Zen Hei',sans-serif">宁波森泉科技有限公司</text>
<text transform="translate(521.5 985) scale(1.12 1)" x="0" y="0" font-size="22.5" font-weight="500" fill="#b0b0b0" fill-opacity="0.62" stroke="#b0b0b0" stroke-opacity="0.5" stroke-width="0.5" letter-spacing="1.83" font-family="'Liberation Sans','Noto Sans CJK SC','WenQuanYi Zen Hei',sans-serif">宁波森泉科技有限公司</text>
<line x1="86" y1="20.2" x2="86" y2="145" stroke="#fcc917" stroke-width="2"/>
<circle cx="86" cy="145" r="4.5" fill="#fcc917"/>
<circle cx="86" cy="20.2" r="12.8" fill="#fcc917"/>
<text x="86" y="26.5" font-size="17.6" font-weight="bold" fill="#1b1b2b" text-anchor="middle" transform="translate(86 0) scale(0.76 1) translate(-86 0)">A</text>
<line x1="253" y1="20.2" x2="253" y2="76.8" stroke="#fcc917" stroke-width="2"/>
<circle cx="253" cy="76.8" r="4.5" fill="#fcc917"/>
<circle cx="253" cy="20.2" r="12.8" fill="#fcc917"/>
<text x="253" y="26.5" font-size="17.6" font-weight="bold" fill="#1b1b2b" text-anchor="middle" transform="translate(253 0) scale(0.76 1) translate(-253 0)">B</text>
<line x1="309.3" y1="20.2" x2="309.3" y2="76.8" stroke="#fcc917" stroke-width="2"/>
<circle cx="309.3" cy="76.8" r="4.5" fill="#fcc917"/>
<circle cx="309.3" cy="20.2" r="12.8" fill="#fcc917"/>
<text x="309.3" y="26.5" font-size="17.6" font-weight="bold" fill="#1b1b2b" text-anchor="middle" transform="translate(309.3 0) scale(0.76 1) translate(-309.3 0)">C</text>
<line x1="512" y1="20.2" x2="512" y2="213" stroke="#fcc917" stroke-width="2"/>
<circle cx="512" cy="213" r="4.5" fill="#fcc917"/>
<circle cx="512" cy="20.2" r="12.8" fill="#fcc917"/>
<text x="512" y="26.5" font-size="17.6" font-weight="bold" fill="#1b1b2b" text-anchor="middle" transform="translate(512 0) scale(0.76 1) translate(-512 0)">D</text>
<line x1="580" y1="20.2" x2="580" y2="199" stroke="#fcc917" stroke-width="2"/>
<circle cx="580" cy="199" r="4.5" fill="#fcc917"/>
<circle cx="580" cy="20.2" r="12.8" fill="#fcc917"/>
<text x="580" y="26.5" font-size="17.6" font-weight="bold" fill="#1b1b2b" text-anchor="middle" transform="translate(580 0) scale(0.76 1) translate(-580 0)">E</text>
<line x1="106" y1="344" x2="106" y2="570" stroke="#fcc917" stroke-width="2"/>
<circle cx="106" cy="570" r="4.5" fill="#fcc917"/>
<circle cx="106" cy="344" r="12.8" fill="#fcc917"/>
<text x="106" y="350.3" font-size="17.6" font-weight="bold" fill="#1b1b2b" text-anchor="middle" transform="translate(106 0) scale(0.76 1) translate(-106 0)">F</text>
<line x1="226" y1="344" x2="226" y2="445.5" stroke="#fcc917" stroke-width="2"/>
<circle cx="226" cy="445.5" r="4.5" fill="#fcc917"/>
<circle cx="226" cy="344" r="12.8" fill="#fcc917"/>
<text x="226" y="350.3" font-size="17.6" font-weight="bold" fill="#1b1b2b" text-anchor="middle" transform="translate(226 0) scale(0.76 1) translate(-226 0)">G</text>
<line x1="624" y1="344" x2="624" y2="534" stroke="#fcc917" stroke-width="2"/>
<circle cx="624" cy="534" r="4.5" fill="#fcc917"/>
<circle cx="624" cy="344" r="12.8" fill="#fcc917"/>
<text x="624" y="350.3" font-size="17.6" font-weight="bold" fill="#1b1b2b" text-anchor="middle" transform="translate(624 0) scale(0.76 1) translate(-624 0)">H</text>
<line x1="110" y1="676" x2="110" y2="799" stroke="#fcc917" stroke-width="2"/>
<circle cx="110" cy="799" r="4.5" fill="#fcc917"/>
<circle cx="110" cy="676" r="12.8" fill="#fcc917"/>
<text x="110" y="682.3" font-size="17.6" font-weight="bold" fill="#1b1b2b" text-anchor="middle" transform="translate(110 0) scale(0.76 1) translate(-110 0)">I</text>
<line x1="13.5" y1="1134" x2="103" y2="1134" stroke="#231f20" stroke-width="1.75"/>
<circle cx="58" cy="1134" r="6.9" fill="#fbd21e" stroke="#231f20" stroke-width="1.65"/>
<text x="58" y="1098.7" font-size="20.5" font-style="italic" fill="#1b1b2b" stroke="#1b1b2b" stroke-width="0.4" text-anchor="middle" transform="translate(58 0) scale(0.8 1) translate(-58 0)">A</text>
<circle cx="171.1" cy="1091.3" r="42.2" fill="none" stroke="#231f20" stroke-width="1.75"/>
<circle cx="171.1" cy="1049.1" r="6.9" fill="#fbd21e" stroke="#231f20" stroke-width="1.65"/>
<circle cx="171.1" cy="1133.5" r="6.9" fill="#fbd21e" stroke="#231f20" stroke-width="1.65"/>
<text x="171.5" y="1098.7" font-size="20.5" font-style="italic" fill="#1b1b2b" stroke="#1b1b2b" stroke-width="0.4" text-anchor="middle" transform="translate(171.5 0) scale(0.8 1) translate(-171.5 0)">B</text>
<circle cx="285.1" cy="1091.3" r="42.2" fill="none" stroke="#231f20" stroke-width="1.75"/>
<circle cx="285.1" cy="1049.1" r="6.9" fill="#fbd21e" stroke="#231f20" stroke-width="1.65"/>
<circle cx="285.1" cy="1133.5" r="6.9" fill="#fbd21e" stroke="#231f20" stroke-width="1.65"/>
<circle cx="242.9" cy="1091.3" r="6.9" fill="#c9c9c9" stroke="#231f20" stroke-width="1.65"/>
<circle cx="327.3" cy="1091.3" r="6.9" fill="#c9c9c9" stroke="#231f20" stroke-width="1.65"/>
<text x="283" y="1098.7" font-size="20.5" font-style="italic" fill="#1b1b2b" stroke="#1b1b2b" stroke-width="0.4" text-anchor="middle" transform="translate(283 0) scale(0.8 1) translate(-283 0)">C</text>
<circle cx="394.8" cy="1091.3" r="42.2" fill="none" stroke="#231f20" stroke-width="1.75"/>
<circle cx="394.8" cy="1049.1" r="6.9" fill="#fbd21e" stroke="#231f20" stroke-width="1.65"/>
<circle cx="430.97" cy="1069.57" r="6.9" fill="#fbd21e" stroke="#231f20" stroke-width="1.65"/>
<circle cx="435.37" cy="1102.93" r="6.9" fill="#fbd21e" stroke="#231f20" stroke-width="1.65"/>
<circle cx="419.6" cy="1125.44" r="6.9" fill="#fbd21e" stroke="#231f20" stroke-width="1.65"/>
<circle cx="394.8" cy="1133.5" r="6.9" fill="#fbd21e" stroke="#231f20" stroke-width="1.65"/>
<circle cx="358.25" cy="1112.4" r="6.9" fill="#fbd21e" stroke="#231f20" stroke-width="1.65"/>
<circle cx="355.4" cy="1076.18" r="6.9" fill="#fbd21e" stroke="#231f20" stroke-width="1.65"/>
<text x="394" y="1098.7" font-size="20.5" font-style="italic" fill="#1b1b2b" stroke="#1b1b2b" stroke-width="0.4" text-anchor="middle" transform="translate(394 0) scale(0.8 1) translate(-394 0)">D</text>
<path d="M550.6 1091.3 A42.2 42.2 0 0 1 466.2 1091.3" fill="none" stroke="#231f20" stroke-width="1.75"/>
<path d="M469 1076.18 A42.2 42.2 0 0 1 547.8 1076.18" fill="none" stroke="#231f20" stroke-width="1.75" stroke-dasharray="9.6 5.7"/>
<circle cx="466.2" cy="1091.3" r="6.9" fill="#fbd21e" stroke="#231f20" stroke-width="1.65"/>
<circle cx="508.4" cy="1133.5" r="6.9" fill="#fbd21e" stroke="#231f20" stroke-width="1.65"/>
<circle cx="550.6" cy="1091.3" r="6.9" fill="#fbd21e" stroke="#231f20" stroke-width="1.65"/>
<text x="508.4" y="1098.7" font-size="20.5" font-style="italic" fill="#1b1b2b" stroke="#1b1b2b" stroke-width="0.4" text-anchor="middle" transform="translate(508.4 0) scale(0.8 1) translate(-508.4 0)">E</text>
<path d="M664.5 1091.3 A42.2 42.2 0 0 1 580.1 1091.3" fill="none" stroke="#231f20" stroke-width="1.75"/>
<path d="M582.9 1076.18 A42.2 42.2 0 0 1 661.7 1076.18" fill="none" stroke="#231f20" stroke-width="1.75" stroke-dasharray="9.6 5.7"/>
<circle cx="580.11" cy="1092.04" r="6.9" fill="#fbd21e" stroke="#231f20" stroke-width="1.65"/>
<circle cx="602.68" cy="1128.66" r="6.9" fill="#fbd21e" stroke="#231f20" stroke-width="1.65"/>
<circle cx="661.62" cy="1106.63" r="6.9" fill="#fbd21e" stroke="#231f20" stroke-width="1.65"/>
<text x="622.3" y="1098.7" font-size="20.5" font-style="italic" fill="#1b1b2b" stroke="#1b1b2b" stroke-width="0.4" text-anchor="middle" transform="translate(622.3 0) scale(0.8 1) translate(-622.3 0)">F</text>
<path d="M777.9 1091.3 A42.2 42.2 0 0 1 693.5 1091.3" fill="none" stroke="#231f20" stroke-width="1.75"/>
<path d="M696.3 1076.18 A42.2 42.2 0 0 1 775.1 1076.18" fill="none" stroke="#231f20" stroke-width="1.75" stroke-dasharray="9.6 5.7"/>
<circle cx="693.51" cy="1092.04" r="6.9" fill="#fbd21e" stroke="#231f20" stroke-width="1.65"/>
<circle cx="700.39" cy="1114.41" r="6.9" fill="#fbd21e" stroke="#231f20" stroke-width="1.65"/>
<circle cx="715.95" cy="1128.59" r="6.9" fill="#fbd21e" stroke="#231f20" stroke-width="1.65"/>
<circle cx="744.47" cy="1132.58" r="6.9" fill="#fbd21e" stroke="#231f20" stroke-width="1.65"/>
<circle cx="774.07" cy="1108.87" r="6.9" fill="#fbd21e" stroke="#231f20" stroke-width="1.65"/>
<text x="736" y="1098.7" font-size="20.5" font-style="italic" fill="#1b1b2b" stroke="#1b1b2b" stroke-width="0.4" text-anchor="middle" transform="translate(736 0) scale(0.8 1) translate(-736 0)">G</text>
</svg>
</body></html>
